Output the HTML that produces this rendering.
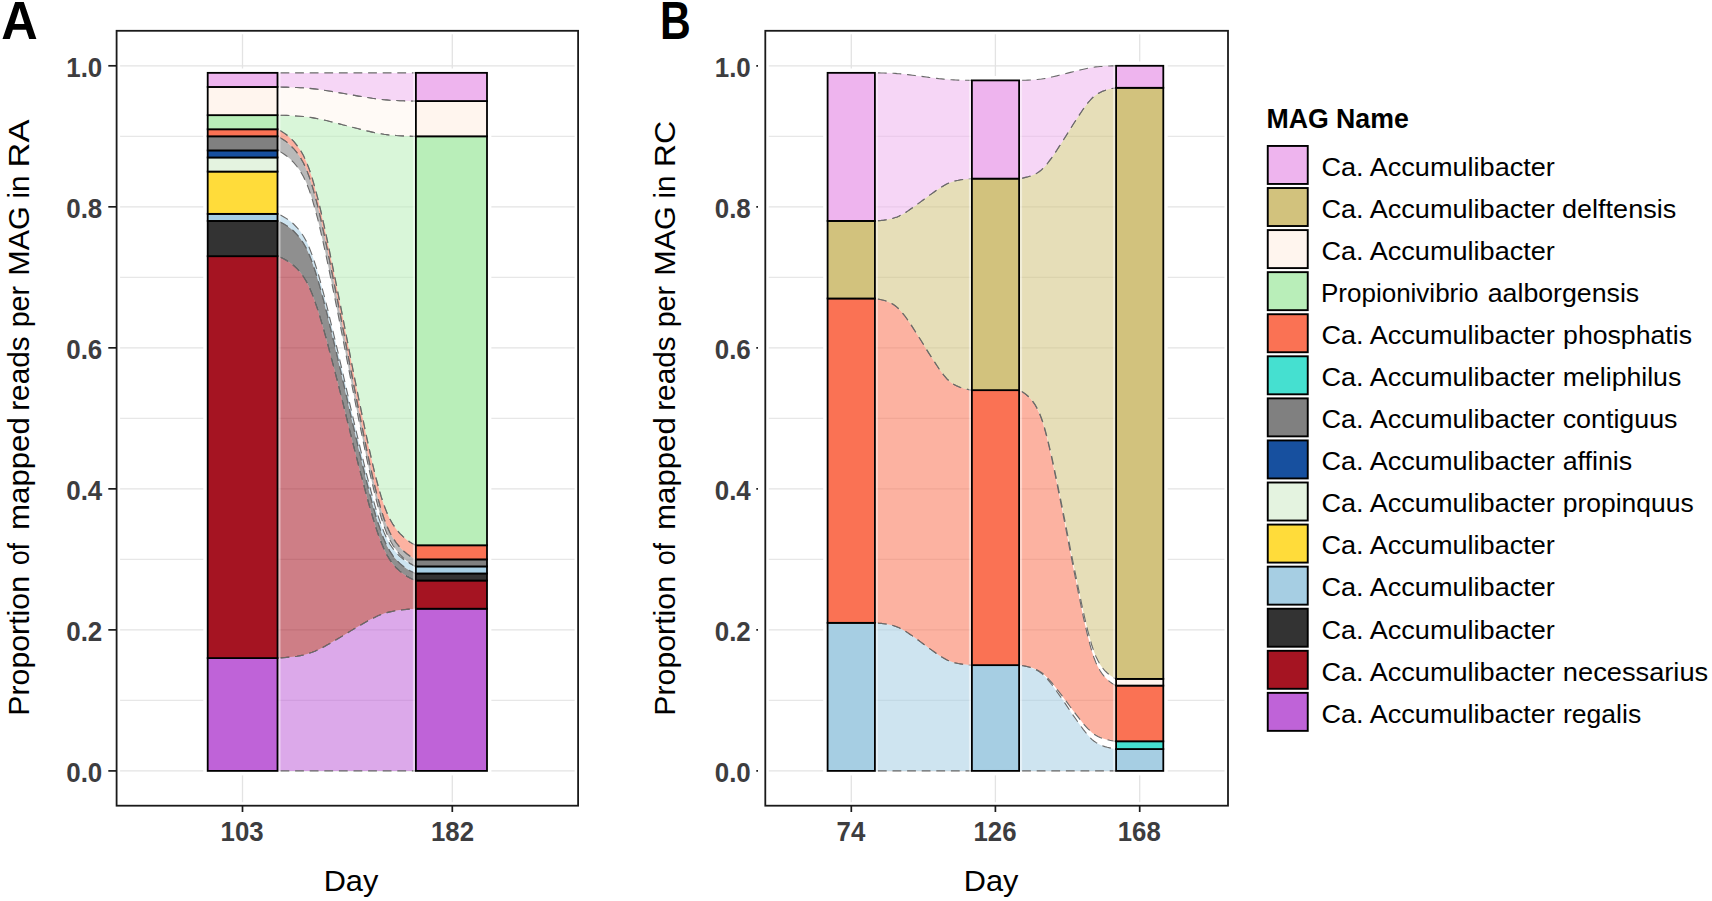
<!DOCTYPE html>
<html><head><meta charset="utf-8"><title>Figure</title>
<style>html,body{margin:0;padding:0;background:#fff}body{width:1712px;height:901px;overflow:hidden}</style></head>
<body>
<svg width="1712" height="901" viewBox="0 0 1712 901" style="display:block">
<rect width="1712" height="901" fill="#fff"/>
<rect x="116.6" y="30.8" width="461.5" height="774.9000000000001" fill="#fff"/>
<line x1="116.6" x2="578.1" y1="770.90" y2="770.90" stroke="#E3E3E3" stroke-width="1.3"/>
<line x1="116.6" x2="578.1" y1="700.39" y2="700.39" stroke="#E7E7E7" stroke-width="1.2"/>
<line x1="116.6" x2="578.1" y1="629.88" y2="629.88" stroke="#E3E3E3" stroke-width="1.3"/>
<line x1="116.6" x2="578.1" y1="559.37" y2="559.37" stroke="#E7E7E7" stroke-width="1.2"/>
<line x1="116.6" x2="578.1" y1="488.86" y2="488.86" stroke="#E3E3E3" stroke-width="1.3"/>
<line x1="116.6" x2="578.1" y1="418.35" y2="418.35" stroke="#E7E7E7" stroke-width="1.2"/>
<line x1="116.6" x2="578.1" y1="347.84" y2="347.84" stroke="#E3E3E3" stroke-width="1.3"/>
<line x1="116.6" x2="578.1" y1="277.33" y2="277.33" stroke="#E7E7E7" stroke-width="1.2"/>
<line x1="116.6" x2="578.1" y1="206.82" y2="206.82" stroke="#E3E3E3" stroke-width="1.3"/>
<line x1="116.6" x2="578.1" y1="136.31" y2="136.31" stroke="#E7E7E7" stroke-width="1.2"/>
<line x1="116.6" x2="578.1" y1="65.80" y2="65.80" stroke="#E3E3E3" stroke-width="1.3"/>
<line x1="242.5" x2="242.5" y1="30.8" y2="805.7" stroke="#E3E3E3" stroke-width="1.3"/>
<line x1="452.3" x2="452.3" y1="30.8" y2="805.7" stroke="#E3E3E3" stroke-width="1.3"/>
<rect x="116.6" y="30.8" width="461.5" height="774.9000000000001" fill="none" stroke="#fff" stroke-width="7"/>
<line x1="204.30" x2="280.90" y1="70.65" y2="70.65" stroke="#fff" stroke-width="4.4"/>
<line x1="242.5" x2="242.5" y1="771.40" y2="775.40" stroke="#fff" stroke-width="5"/>
<line x1="205.50" x2="205.50" y1="68.85" y2="774.90" stroke="#fff" stroke-width="4.4"/>
<line x1="412.50" x2="490.40" y1="70.65" y2="70.65" stroke="#fff" stroke-width="4.4"/>
<line x1="452.3" x2="452.3" y1="771.40" y2="775.40" stroke="#fff" stroke-width="5"/>
<line x1="489.20" x2="489.20" y1="68.85" y2="774.90" stroke="#fff" stroke-width="4.4"/>
<path d="M277.5,658.1 L277.6,658.1 L278.0,658.1 L279.1,658.0 L280.9,657.9 L283.5,657.7 L286.6,657.4 L290.0,657.1 L293.6,656.7 L297.0,656.2 L300.4,655.6 L303.5,655.0 L306.5,654.2 L309.3,653.3 L312.1,652.3 L314.9,651.2 L317.9,649.9 L320.9,648.4 L324.1,646.7 L327.5,644.8 L331.0,642.8 L334.8,640.6 L338.7,638.3 L342.7,635.9 L346.7,633.4 L350.7,630.9 L354.7,628.5 L358.6,626.2 L362.4,624.0 L365.9,622.0 L369.3,620.1 L372.5,618.5 L375.5,617.0 L378.5,615.6 L381.3,614.5 L384.1,613.5 L386.9,612.6 L389.9,611.9 L393.0,611.2 L396.4,610.6 L399.8,610.1 L403.4,609.7 L406.8,609.4 L409.9,609.1 L412.5,608.9 L414.3,608.8 L415.4,608.8 L415.8,608.7 L415.9,608.7 L415.9,770.9 L415.8,770.9 L415.4,770.9 L414.3,770.9 L412.5,770.9 L409.9,770.9 L406.8,770.9 L403.4,770.9 L399.8,770.9 L396.4,770.9 L393.0,770.9 L389.9,770.9 L386.9,770.9 L384.1,770.9 L381.3,770.9 L378.5,770.9 L375.5,770.9 L372.5,770.9 L369.3,770.9 L365.9,770.9 L362.4,770.9 L358.6,770.9 L354.7,770.9 L350.7,770.9 L346.7,770.9 L342.7,770.9 L338.7,770.9 L334.8,770.9 L331.0,770.9 L327.5,770.9 L324.1,770.9 L320.9,770.9 L317.9,770.9 L314.9,770.9 L312.1,770.9 L309.3,770.9 L306.5,770.9 L303.5,770.9 L300.4,770.9 L297.0,770.9 L293.6,770.9 L290.0,770.9 L286.6,770.9 L283.5,770.9 L280.9,770.9 L279.1,770.9 L278.0,770.9 L277.6,770.9 L277.5,770.9Z" fill="#BF63D8" fill-opacity="0.55"/>
<path d="M277.5,658.1 L277.6,658.1 L278.0,658.1 L279.1,658.0 L280.9,657.9 L283.5,657.7 L286.6,657.4 L290.0,657.1 L293.6,656.7 L297.0,656.2 L300.4,655.6 L303.5,655.0 L306.5,654.2 L309.3,653.3 L312.1,652.3 L314.9,651.2 L317.9,649.9 L320.9,648.4 L324.1,646.7 L327.5,644.8 L331.0,642.8 L334.8,640.6 L338.7,638.3 L342.7,635.9 L346.7,633.4 L350.7,630.9 L354.7,628.5 L358.6,626.2 L362.4,624.0 L365.9,622.0 L369.3,620.1 L372.5,618.5 L375.5,617.0 L378.5,615.6 L381.3,614.5 L384.1,613.5 L386.9,612.6 L389.9,611.9 L393.0,611.2 L396.4,610.6 L399.8,610.1 L403.4,609.7 L406.8,609.4 L409.9,609.1 L412.5,608.9 L414.3,608.8 L415.4,608.8 L415.8,608.7 L415.9,608.7" fill="none" stroke="#6a6a6a" stroke-width="1.1" stroke-dasharray="8.8,5.8" stroke-dashoffset="-3"/>
<path d="M277.5,770.9 L277.6,770.9 L278.0,770.9 L279.1,770.9 L280.9,770.9 L283.5,770.9 L286.6,770.9 L290.0,770.9 L293.6,770.9 L297.0,770.9 L300.4,770.9 L303.5,770.9 L306.5,770.9 L309.3,770.9 L312.1,770.9 L314.9,770.9 L317.9,770.9 L320.9,770.9 L324.1,770.9 L327.5,770.9 L331.0,770.9 L334.8,770.9 L338.7,770.9 L342.7,770.9 L346.7,770.9 L350.7,770.9 L354.7,770.9 L358.6,770.9 L362.4,770.9 L365.9,770.9 L369.3,770.9 L372.5,770.9 L375.5,770.9 L378.5,770.9 L381.3,770.9 L384.1,770.9 L386.9,770.9 L389.9,770.9 L393.0,770.9 L396.4,770.9 L399.8,770.9 L403.4,770.9 L406.8,770.9 L409.9,770.9 L412.5,770.9 L414.3,770.9 L415.4,770.9 L415.8,770.9 L415.9,770.9" fill="none" stroke="#6a6a6a" stroke-width="1.1" stroke-dasharray="8.8,5.8" stroke-dashoffset="-3"/>
<path d="M277.5,256.2 L277.6,256.2 L278.0,256.3 L279.1,256.7 L280.9,257.5 L283.5,258.8 L286.6,260.5 L290.0,262.7 L293.6,265.5 L297.0,268.7 L300.4,272.5 L303.5,276.8 L306.5,281.7 L309.3,287.4 L312.1,293.9 L314.9,301.5 L317.9,310.2 L320.9,320.1 L324.1,331.1 L327.5,343.4 L331.0,356.8 L334.8,371.1 L338.7,386.4 L342.7,402.2 L346.7,418.3 L350.7,434.5 L354.7,450.3 L358.6,465.6 L362.4,479.9 L365.9,493.3 L369.3,505.6 L372.5,516.6 L375.5,526.5 L378.5,535.2 L381.3,542.8 L384.1,549.3 L386.9,555.0 L389.9,559.9 L393.0,564.2 L396.4,568.0 L399.8,571.2 L403.4,574.0 L406.8,576.2 L409.9,577.9 L412.5,579.2 L414.3,580.0 L415.4,580.4 L415.8,580.5 L415.9,580.5 L415.9,608.7 L415.8,608.7 L415.4,608.8 L414.3,608.8 L412.5,608.9 L409.9,609.1 L406.8,609.4 L403.4,609.7 L399.8,610.1 L396.4,610.6 L393.0,611.2 L389.9,611.9 L386.9,612.6 L384.1,613.5 L381.3,614.5 L378.5,615.6 L375.5,617.0 L372.5,618.5 L369.3,620.1 L365.9,622.0 L362.4,624.0 L358.6,626.2 L354.7,628.5 L350.7,630.9 L346.7,633.4 L342.7,635.9 L338.7,638.3 L334.8,640.6 L331.0,642.8 L327.5,644.8 L324.1,646.7 L320.9,648.4 L317.9,649.9 L314.9,651.2 L312.1,652.3 L309.3,653.3 L306.5,654.2 L303.5,655.0 L300.4,655.6 L297.0,656.2 L293.6,656.7 L290.0,657.1 L286.6,657.4 L283.5,657.7 L280.9,657.9 L279.1,658.0 L278.0,658.1 L277.6,658.1 L277.5,658.1Z" fill="#A51422" fill-opacity="0.55"/>
<path d="M277.5,256.2 L277.6,256.2 L278.0,256.3 L279.1,256.7 L280.9,257.5 L283.5,258.8 L286.6,260.5 L290.0,262.7 L293.6,265.5 L297.0,268.7 L300.4,272.5 L303.5,276.8 L306.5,281.7 L309.3,287.4 L312.1,293.9 L314.9,301.5 L317.9,310.2 L320.9,320.1 L324.1,331.1 L327.5,343.4 L331.0,356.8 L334.8,371.1 L338.7,386.4 L342.7,402.2 L346.7,418.3 L350.7,434.5 L354.7,450.3 L358.6,465.6 L362.4,479.9 L365.9,493.3 L369.3,505.6 L372.5,516.6 L375.5,526.5 L378.5,535.2 L381.3,542.8 L384.1,549.3 L386.9,555.0 L389.9,559.9 L393.0,564.2 L396.4,568.0 L399.8,571.2 L403.4,574.0 L406.8,576.2 L409.9,577.9 L412.5,579.2 L414.3,580.0 L415.4,580.4 L415.8,580.5 L415.9,580.5" fill="none" stroke="#6a6a6a" stroke-width="1.1" stroke-dasharray="8.8,5.8" stroke-dashoffset="-3"/>
<path d="M277.5,658.1 L277.6,658.1 L278.0,658.1 L279.1,658.0 L280.9,657.9 L283.5,657.7 L286.6,657.4 L290.0,657.1 L293.6,656.7 L297.0,656.2 L300.4,655.6 L303.5,655.0 L306.5,654.2 L309.3,653.3 L312.1,652.3 L314.9,651.2 L317.9,649.9 L320.9,648.4 L324.1,646.7 L327.5,644.8 L331.0,642.8 L334.8,640.6 L338.7,638.3 L342.7,635.9 L346.7,633.4 L350.7,630.9 L354.7,628.5 L358.6,626.2 L362.4,624.0 L365.9,622.0 L369.3,620.1 L372.5,618.5 L375.5,617.0 L378.5,615.6 L381.3,614.5 L384.1,613.5 L386.9,612.6 L389.9,611.9 L393.0,611.2 L396.4,610.6 L399.8,610.1 L403.4,609.7 L406.8,609.4 L409.9,609.1 L412.5,608.9 L414.3,608.8 L415.4,608.8 L415.8,608.7 L415.9,608.7" fill="none" stroke="#6a6a6a" stroke-width="1.1" stroke-dasharray="8.8,5.8" stroke-dashoffset="-3"/>
<path d="M277.5,220.9 L277.6,220.9 L278.0,221.1 L279.1,221.5 L280.9,222.4 L283.5,223.7 L286.6,225.6 L290.0,228.1 L293.6,231.0 L297.0,234.6 L300.4,238.6 L303.5,243.3 L306.5,248.6 L309.3,254.8 L312.1,261.9 L314.9,270.2 L317.9,279.7 L320.9,290.4 L324.1,302.4 L327.5,315.7 L331.0,330.2 L334.8,345.9 L338.7,362.4 L342.7,379.7 L346.7,397.2 L350.7,414.7 L354.7,432.0 L358.6,448.5 L362.4,464.2 L365.9,478.7 L369.3,492.0 L372.5,504.0 L375.5,514.7 L378.5,524.2 L381.3,532.4 L384.1,539.6 L386.9,545.8 L389.9,551.1 L393.0,555.8 L396.4,559.8 L399.8,563.3 L403.4,566.3 L406.8,568.8 L409.9,570.7 L412.5,572.0 L414.3,572.9 L415.4,573.3 L415.8,573.5 L415.9,573.5 L415.9,580.5 L415.8,580.5 L415.4,580.4 L414.3,580.0 L412.5,579.2 L409.9,577.9 L406.8,576.2 L403.4,574.0 L399.8,571.2 L396.4,568.0 L393.0,564.2 L389.9,559.9 L386.9,555.0 L384.1,549.3 L381.3,542.8 L378.5,535.2 L375.5,526.5 L372.5,516.6 L369.3,505.6 L365.9,493.3 L362.4,479.9 L358.6,465.6 L354.7,450.3 L350.7,434.5 L346.7,418.3 L342.7,402.2 L338.7,386.4 L334.8,371.1 L331.0,356.8 L327.5,343.4 L324.1,331.1 L320.9,320.1 L317.9,310.2 L314.9,301.5 L312.1,293.9 L309.3,287.4 L306.5,281.7 L303.5,276.8 L300.4,272.5 L297.0,268.7 L293.6,265.5 L290.0,262.7 L286.6,260.5 L283.5,258.8 L280.9,257.5 L279.1,256.7 L278.0,256.3 L277.6,256.2 L277.5,256.2Z" fill="#333333" fill-opacity="0.55"/>
<path d="M277.5,220.9 L277.6,220.9 L278.0,221.1 L279.1,221.5 L280.9,222.4 L283.5,223.7 L286.6,225.6 L290.0,228.1 L293.6,231.0 L297.0,234.6 L300.4,238.6 L303.5,243.3 L306.5,248.6 L309.3,254.8 L312.1,261.9 L314.9,270.2 L317.9,279.7 L320.9,290.4 L324.1,302.4 L327.5,315.7 L331.0,330.2 L334.8,345.9 L338.7,362.4 L342.7,379.7 L346.7,397.2 L350.7,414.7 L354.7,432.0 L358.6,448.5 L362.4,464.2 L365.9,478.7 L369.3,492.0 L372.5,504.0 L375.5,514.7 L378.5,524.2 L381.3,532.4 L384.1,539.6 L386.9,545.8 L389.9,551.1 L393.0,555.8 L396.4,559.8 L399.8,563.3 L403.4,566.3 L406.8,568.8 L409.9,570.7 L412.5,572.0 L414.3,572.9 L415.4,573.3 L415.8,573.5 L415.9,573.5" fill="none" stroke="#6a6a6a" stroke-width="1.1" stroke-dasharray="8.8,5.8" stroke-dashoffset="-3"/>
<path d="M277.5,256.2 L277.6,256.2 L278.0,256.3 L279.1,256.7 L280.9,257.5 L283.5,258.8 L286.6,260.5 L290.0,262.7 L293.6,265.5 L297.0,268.7 L300.4,272.5 L303.5,276.8 L306.5,281.7 L309.3,287.4 L312.1,293.9 L314.9,301.5 L317.9,310.2 L320.9,320.1 L324.1,331.1 L327.5,343.4 L331.0,356.8 L334.8,371.1 L338.7,386.4 L342.7,402.2 L346.7,418.3 L350.7,434.5 L354.7,450.3 L358.6,465.6 L362.4,479.9 L365.9,493.3 L369.3,505.6 L372.5,516.6 L375.5,526.5 L378.5,535.2 L381.3,542.8 L384.1,549.3 L386.9,555.0 L389.9,559.9 L393.0,564.2 L396.4,568.0 L399.8,571.2 L403.4,574.0 L406.8,576.2 L409.9,577.9 L412.5,579.2 L414.3,580.0 L415.4,580.4 L415.8,580.5 L415.9,580.5" fill="none" stroke="#6a6a6a" stroke-width="1.1" stroke-dasharray="8.8,5.8" stroke-dashoffset="-3"/>
<path d="M277.5,213.9 L277.6,213.9 L278.0,214.1 L279.1,214.5 L280.9,215.3 L283.5,216.7 L286.6,218.6 L290.0,221.0 L293.6,224.0 L297.0,227.5 L300.4,231.6 L303.5,236.2 L306.5,241.6 L309.3,247.8 L312.1,254.9 L314.9,263.2 L317.9,272.6 L320.9,283.4 L324.1,295.4 L327.5,308.7 L331.0,323.2 L334.8,338.8 L338.7,355.4 L342.7,372.6 L346.7,390.1 L350.7,407.7 L354.7,424.9 L358.6,441.5 L362.4,457.1 L365.9,471.6 L369.3,484.9 L372.5,496.9 L375.5,507.7 L378.5,517.1 L381.3,525.4 L384.1,532.5 L386.9,538.7 L389.9,544.1 L393.0,548.7 L396.4,552.8 L399.8,556.3 L403.4,559.3 L406.8,561.7 L409.9,563.6 L412.5,565.0 L414.3,565.8 L415.4,566.2 L415.8,566.4 L415.9,566.4 L415.9,573.5 L415.8,573.5 L415.4,573.3 L414.3,572.9 L412.5,572.0 L409.9,570.7 L406.8,568.8 L403.4,566.3 L399.8,563.3 L396.4,559.8 L393.0,555.8 L389.9,551.1 L386.9,545.8 L384.1,539.6 L381.3,532.4 L378.5,524.2 L375.5,514.7 L372.5,504.0 L369.3,492.0 L365.9,478.7 L362.4,464.2 L358.6,448.5 L354.7,432.0 L350.7,414.7 L346.7,397.2 L342.7,379.7 L338.7,362.4 L334.8,345.9 L331.0,330.2 L327.5,315.7 L324.1,302.4 L320.9,290.4 L317.9,279.7 L314.9,270.2 L312.1,261.9 L309.3,254.8 L306.5,248.6 L303.5,243.3 L300.4,238.6 L297.0,234.6 L293.6,231.0 L290.0,228.1 L286.6,225.6 L283.5,223.7 L280.9,222.4 L279.1,221.5 L278.0,221.1 L277.6,220.9 L277.5,220.9Z" fill="#A6CEE3" fill-opacity="0.55"/>
<path d="M277.5,213.9 L277.6,213.9 L278.0,214.1 L279.1,214.5 L280.9,215.3 L283.5,216.7 L286.6,218.6 L290.0,221.0 L293.6,224.0 L297.0,227.5 L300.4,231.6 L303.5,236.2 L306.5,241.6 L309.3,247.8 L312.1,254.9 L314.9,263.2 L317.9,272.6 L320.9,283.4 L324.1,295.4 L327.5,308.7 L331.0,323.2 L334.8,338.8 L338.7,355.4 L342.7,372.6 L346.7,390.1 L350.7,407.7 L354.7,424.9 L358.6,441.5 L362.4,457.1 L365.9,471.6 L369.3,484.9 L372.5,496.9 L375.5,507.7 L378.5,517.1 L381.3,525.4 L384.1,532.5 L386.9,538.7 L389.9,544.1 L393.0,548.7 L396.4,552.8 L399.8,556.3 L403.4,559.3 L406.8,561.7 L409.9,563.6 L412.5,565.0 L414.3,565.8 L415.4,566.2 L415.8,566.4 L415.9,566.4" fill="none" stroke="#6a6a6a" stroke-width="1.1" stroke-dasharray="8.8,5.8" stroke-dashoffset="-3"/>
<path d="M277.5,220.9 L277.6,220.9 L278.0,221.1 L279.1,221.5 L280.9,222.4 L283.5,223.7 L286.6,225.6 L290.0,228.1 L293.6,231.0 L297.0,234.6 L300.4,238.6 L303.5,243.3 L306.5,248.6 L309.3,254.8 L312.1,261.9 L314.9,270.2 L317.9,279.7 L320.9,290.4 L324.1,302.4 L327.5,315.7 L331.0,330.2 L334.8,345.9 L338.7,362.4 L342.7,379.7 L346.7,397.2 L350.7,414.7 L354.7,432.0 L358.6,448.5 L362.4,464.2 L365.9,478.7 L369.3,492.0 L372.5,504.0 L375.5,514.7 L378.5,524.2 L381.3,532.4 L384.1,539.6 L386.9,545.8 L389.9,551.1 L393.0,555.8 L396.4,559.8 L399.8,563.3 L403.4,566.3 L406.8,568.8 L409.9,570.7 L412.5,572.0 L414.3,572.9 L415.4,573.3 L415.8,573.5 L415.9,573.5" fill="none" stroke="#6a6a6a" stroke-width="1.1" stroke-dasharray="8.8,5.8" stroke-dashoffset="-3"/>
<path d="M277.5,136.3 L277.6,136.3 L278.0,136.5 L279.1,137.0 L280.9,138.1 L283.5,139.7 L286.6,141.9 L290.0,144.9 L293.6,148.5 L297.0,152.7 L300.4,157.6 L303.5,163.1 L306.5,169.6 L309.3,177.0 L312.1,185.5 L314.9,195.4 L317.9,206.8 L320.9,219.7 L324.1,234.1 L327.5,250.1 L331.0,267.5 L334.8,286.3 L338.7,306.1 L342.7,326.8 L346.7,347.8 L350.7,368.9 L354.7,389.5 L358.6,409.4 L362.4,428.2 L365.9,445.6 L369.3,461.6 L372.5,476.0 L375.5,488.9 L378.5,500.2 L381.3,510.1 L384.1,518.7 L386.9,526.1 L389.9,532.5 L393.0,538.1 L396.4,543.0 L399.8,547.2 L403.4,550.8 L406.8,553.7 L409.9,556.0 L412.5,557.6 L414.3,558.6 L415.4,559.2 L415.8,559.3 L415.9,559.4 L415.9,566.4 L415.8,566.4 L415.4,566.2 L414.3,565.7 L412.5,564.7 L409.9,563.1 L406.8,560.9 L403.4,558.0 L399.8,554.5 L396.4,550.3 L393.0,545.5 L389.9,540.0 L386.9,533.7 L384.1,526.4 L381.3,518.0 L378.5,508.3 L375.5,497.1 L372.5,484.4 L369.3,470.3 L365.9,454.6 L362.4,437.4 L358.6,419.0 L354.7,399.4 L350.7,379.1 L346.7,358.4 L342.7,337.7 L338.7,317.4 L334.8,297.9 L331.0,279.4 L327.5,262.3 L324.1,246.6 L320.9,232.4 L317.9,219.7 L314.9,208.6 L312.1,198.8 L309.3,190.4 L306.5,183.1 L303.5,176.8 L300.4,171.3 L297.0,166.5 L293.6,162.4 L290.0,158.8 L286.6,156.0 L283.5,153.7 L280.9,152.1 L279.1,151.1 L278.0,150.6 L277.6,150.4 L277.5,150.4Z" fill="#808080" fill-opacity="0.55"/>
<path d="M277.5,136.3 L277.6,136.3 L278.0,136.5 L279.1,137.0 L280.9,138.1 L283.5,139.7 L286.6,141.9 L290.0,144.9 L293.6,148.5 L297.0,152.7 L300.4,157.6 L303.5,163.1 L306.5,169.6 L309.3,177.0 L312.1,185.5 L314.9,195.4 L317.9,206.8 L320.9,219.7 L324.1,234.1 L327.5,250.1 L331.0,267.5 L334.8,286.3 L338.7,306.1 L342.7,326.8 L346.7,347.8 L350.7,368.9 L354.7,389.5 L358.6,409.4 L362.4,428.2 L365.9,445.6 L369.3,461.6 L372.5,476.0 L375.5,488.9 L378.5,500.2 L381.3,510.1 L384.1,518.7 L386.9,526.1 L389.9,532.5 L393.0,538.1 L396.4,543.0 L399.8,547.2 L403.4,550.8 L406.8,553.7 L409.9,556.0 L412.5,557.6 L414.3,558.6 L415.4,559.2 L415.8,559.3 L415.9,559.4" fill="none" stroke="#6a6a6a" stroke-width="1.1" stroke-dasharray="8.8,5.8" stroke-dashoffset="-3"/>
<path d="M277.5,150.4 L277.6,150.4 L278.0,150.6 L279.1,151.1 L280.9,152.1 L283.5,153.7 L286.6,156.0 L290.0,158.8 L293.6,162.4 L297.0,166.5 L300.4,171.3 L303.5,176.8 L306.5,183.1 L309.3,190.4 L312.1,198.8 L314.9,208.6 L317.9,219.7 L320.9,232.4 L324.1,246.6 L327.5,262.3 L331.0,279.4 L334.8,297.9 L338.7,317.4 L342.7,337.7 L346.7,358.4 L350.7,379.1 L354.7,399.4 L358.6,419.0 L362.4,437.4 L365.9,454.6 L369.3,470.3 L372.5,484.4 L375.5,497.1 L378.5,508.3 L381.3,518.0 L384.1,526.4 L386.9,533.7 L389.9,540.0 L393.0,545.5 L396.4,550.3 L399.8,554.5 L403.4,558.0 L406.8,560.9 L409.9,563.1 L412.5,564.7 L414.3,565.7 L415.4,566.2 L415.8,566.4 L415.9,566.4" fill="none" stroke="#6a6a6a" stroke-width="1.1" stroke-dasharray="8.8,5.8" stroke-dashoffset="-3"/>
<path d="M277.5,129.3 L277.6,129.3 L278.0,129.5 L279.1,130.0 L280.9,131.0 L283.5,132.6 L286.6,134.8 L290.0,137.7 L293.6,141.2 L297.0,145.4 L300.4,150.1 L303.5,155.6 L306.5,162.0 L309.3,169.2 L312.1,177.7 L314.9,187.4 L317.9,198.6 L320.9,211.2 L324.1,225.4 L327.5,241.1 L331.0,258.3 L334.8,276.7 L338.7,296.3 L342.7,316.6 L346.7,337.3 L350.7,358.0 L354.7,378.3 L358.6,397.8 L362.4,416.3 L365.9,433.4 L369.3,449.1 L372.5,463.3 L375.5,475.9 L378.5,487.1 L381.3,496.9 L384.1,505.3 L386.9,512.6 L389.9,518.9 L393.0,524.4 L396.4,529.2 L399.8,533.3 L403.4,536.8 L406.8,539.7 L409.9,542.0 L412.5,543.6 L414.3,544.5 L415.4,545.1 L415.8,545.2 L415.9,545.3 L415.9,559.4 L415.8,559.3 L415.4,559.2 L414.3,558.6 L412.5,557.6 L409.9,556.0 L406.8,553.7 L403.4,550.8 L399.8,547.2 L396.4,543.0 L393.0,538.1 L389.9,532.5 L386.9,526.1 L384.1,518.7 L381.3,510.1 L378.5,500.2 L375.5,488.9 L372.5,476.0 L369.3,461.6 L365.9,445.6 L362.4,428.2 L358.6,409.4 L354.7,389.5 L350.7,368.9 L346.7,347.8 L342.7,326.8 L338.7,306.1 L334.8,286.3 L331.0,267.5 L327.5,250.1 L324.1,234.1 L320.9,219.7 L317.9,206.8 L314.9,195.4 L312.1,185.5 L309.3,177.0 L306.5,169.6 L303.5,163.1 L300.4,157.6 L297.0,152.7 L293.6,148.5 L290.0,144.9 L286.6,141.9 L283.5,139.7 L280.9,138.1 L279.1,137.0 L278.0,136.5 L277.6,136.3 L277.5,136.3Z" fill="#FA7254" fill-opacity="0.55"/>
<path d="M277.5,129.3 L277.6,129.3 L278.0,129.5 L279.1,130.0 L280.9,131.0 L283.5,132.6 L286.6,134.8 L290.0,137.7 L293.6,141.2 L297.0,145.4 L300.4,150.1 L303.5,155.6 L306.5,162.0 L309.3,169.2 L312.1,177.7 L314.9,187.4 L317.9,198.6 L320.9,211.2 L324.1,225.4 L327.5,241.1 L331.0,258.3 L334.8,276.7 L338.7,296.3 L342.7,316.6 L346.7,337.3 L350.7,358.0 L354.7,378.3 L358.6,397.8 L362.4,416.3 L365.9,433.4 L369.3,449.1 L372.5,463.3 L375.5,475.9 L378.5,487.1 L381.3,496.9 L384.1,505.3 L386.9,512.6 L389.9,518.9 L393.0,524.4 L396.4,529.2 L399.8,533.3 L403.4,536.8 L406.8,539.7 L409.9,542.0 L412.5,543.6 L414.3,544.5 L415.4,545.1 L415.8,545.2 L415.9,545.3" fill="none" stroke="#6a6a6a" stroke-width="1.1" stroke-dasharray="8.8,5.8" stroke-dashoffset="-3"/>
<path d="M277.5,136.3 L277.6,136.3 L278.0,136.5 L279.1,137.0 L280.9,138.1 L283.5,139.7 L286.6,141.9 L290.0,144.9 L293.6,148.5 L297.0,152.7 L300.4,157.6 L303.5,163.1 L306.5,169.6 L309.3,177.0 L312.1,185.5 L314.9,195.4 L317.9,206.8 L320.9,219.7 L324.1,234.1 L327.5,250.1 L331.0,267.5 L334.8,286.3 L338.7,306.1 L342.7,326.8 L346.7,347.8 L350.7,368.9 L354.7,389.5 L358.6,409.4 L362.4,428.2 L365.9,445.6 L369.3,461.6 L372.5,476.0 L375.5,488.9 L378.5,500.2 L381.3,510.1 L384.1,518.7 L386.9,526.1 L389.9,532.5 L393.0,538.1 L396.4,543.0 L399.8,547.2 L403.4,550.8 L406.8,553.7 L409.9,556.0 L412.5,557.6 L414.3,558.6 L415.4,559.2 L415.8,559.3 L415.9,559.4" fill="none" stroke="#6a6a6a" stroke-width="1.1" stroke-dasharray="8.8,5.8" stroke-dashoffset="-3"/>
<path d="M277.5,115.2 L277.6,115.2 L278.0,115.2 L279.1,115.2 L280.9,115.2 L283.5,115.3 L286.6,115.4 L290.0,115.6 L293.6,115.8 L297.0,116.0 L300.4,116.2 L303.5,116.5 L306.5,116.8 L309.3,117.2 L312.1,117.6 L314.9,118.1 L317.9,118.7 L320.9,119.3 L324.1,120.0 L327.5,120.8 L331.0,121.7 L334.8,122.7 L338.7,123.6 L342.7,124.7 L346.7,125.7 L350.7,126.8 L354.7,127.8 L358.6,128.8 L362.4,129.8 L365.9,130.6 L369.3,131.4 L372.5,132.1 L375.5,132.8 L378.5,133.4 L381.3,133.8 L384.1,134.3 L386.9,134.6 L389.9,135.0 L393.0,135.2 L396.4,135.5 L399.8,135.7 L403.4,135.9 L406.8,136.0 L409.9,136.1 L412.5,136.2 L414.3,136.3 L415.4,136.3 L415.8,136.3 L415.9,136.3 L415.9,545.3 L415.8,545.2 L415.4,545.1 L414.3,544.5 L412.5,543.6 L409.9,542.0 L406.8,539.7 L403.4,536.8 L399.8,533.3 L396.4,529.2 L393.0,524.4 L389.9,518.9 L386.9,512.6 L384.1,505.3 L381.3,496.9 L378.5,487.1 L375.5,475.9 L372.5,463.3 L369.3,449.1 L365.9,433.4 L362.4,416.3 L358.6,397.8 L354.7,378.3 L350.7,358.0 L346.7,337.3 L342.7,316.6 L338.7,296.3 L334.8,276.7 L331.0,258.3 L327.5,241.1 L324.1,225.4 L320.9,211.2 L317.9,198.6 L314.9,187.4 L312.1,177.7 L309.3,169.2 L306.5,162.0 L303.5,155.6 L300.4,150.1 L297.0,145.4 L293.6,141.2 L290.0,137.7 L286.6,134.8 L283.5,132.6 L280.9,131.0 L279.1,130.0 L278.0,129.5 L277.6,129.3 L277.5,129.3Z" fill="#B9EEB9" fill-opacity="0.55"/>
<path d="M277.5,115.2 L277.6,115.2 L278.0,115.2 L279.1,115.2 L280.9,115.2 L283.5,115.3 L286.6,115.4 L290.0,115.6 L293.6,115.8 L297.0,116.0 L300.4,116.2 L303.5,116.5 L306.5,116.8 L309.3,117.2 L312.1,117.6 L314.9,118.1 L317.9,118.7 L320.9,119.3 L324.1,120.0 L327.5,120.8 L331.0,121.7 L334.8,122.7 L338.7,123.6 L342.7,124.7 L346.7,125.7 L350.7,126.8 L354.7,127.8 L358.6,128.8 L362.4,129.8 L365.9,130.6 L369.3,131.4 L372.5,132.1 L375.5,132.8 L378.5,133.4 L381.3,133.8 L384.1,134.3 L386.9,134.6 L389.9,135.0 L393.0,135.2 L396.4,135.5 L399.8,135.7 L403.4,135.9 L406.8,136.0 L409.9,136.1 L412.5,136.2 L414.3,136.3 L415.4,136.3 L415.8,136.3 L415.9,136.3" fill="none" stroke="#6a6a6a" stroke-width="1.1" stroke-dasharray="8.8,5.8" stroke-dashoffset="-3"/>
<path d="M277.5,129.3 L277.6,129.3 L278.0,129.5 L279.1,130.0 L280.9,131.0 L283.5,132.6 L286.6,134.8 L290.0,137.7 L293.6,141.2 L297.0,145.4 L300.4,150.1 L303.5,155.6 L306.5,162.0 L309.3,169.2 L312.1,177.7 L314.9,187.4 L317.9,198.6 L320.9,211.2 L324.1,225.4 L327.5,241.1 L331.0,258.3 L334.8,276.7 L338.7,296.3 L342.7,316.6 L346.7,337.3 L350.7,358.0 L354.7,378.3 L358.6,397.8 L362.4,416.3 L365.9,433.4 L369.3,449.1 L372.5,463.3 L375.5,475.9 L378.5,487.1 L381.3,496.9 L384.1,505.3 L386.9,512.6 L389.9,518.9 L393.0,524.4 L396.4,529.2 L399.8,533.3 L403.4,536.8 L406.8,539.7 L409.9,542.0 L412.5,543.6 L414.3,544.5 L415.4,545.1 L415.8,545.2 L415.9,545.3" fill="none" stroke="#6a6a6a" stroke-width="1.1" stroke-dasharray="8.8,5.8" stroke-dashoffset="-3"/>
<path d="M277.5,87.0 L277.6,87.0 L278.0,87.0 L279.1,87.0 L280.9,87.0 L283.5,87.1 L286.6,87.1 L290.0,87.2 L293.6,87.4 L297.0,87.5 L300.4,87.7 L303.5,87.8 L306.5,88.1 L309.3,88.3 L312.1,88.6 L314.9,88.9 L317.9,89.3 L320.9,89.7 L324.1,90.2 L327.5,90.7 L331.0,91.3 L334.8,92.0 L338.7,92.6 L342.7,93.3 L346.7,94.0 L350.7,94.7 L354.7,95.4 L358.6,96.1 L362.4,96.7 L365.9,97.3 L369.3,97.8 L372.5,98.3 L375.5,98.7 L378.5,99.1 L381.3,99.4 L384.1,99.7 L386.9,99.9 L389.9,100.2 L393.0,100.3 L396.4,100.5 L399.8,100.7 L403.4,100.8 L406.8,100.9 L409.9,100.9 L412.5,101.0 L414.3,101.0 L415.4,101.0 L415.8,101.1 L415.9,101.1 L415.9,136.3 L415.8,136.3 L415.4,136.3 L414.3,136.3 L412.5,136.2 L409.9,136.1 L406.8,136.0 L403.4,135.9 L399.8,135.7 L396.4,135.5 L393.0,135.2 L389.9,135.0 L386.9,134.6 L384.1,134.3 L381.3,133.8 L378.5,133.4 L375.5,132.8 L372.5,132.1 L369.3,131.4 L365.9,130.6 L362.4,129.8 L358.6,128.8 L354.7,127.8 L350.7,126.8 L346.7,125.7 L342.7,124.7 L338.7,123.6 L334.8,122.7 L331.0,121.7 L327.5,120.8 L324.1,120.0 L320.9,119.3 L317.9,118.7 L314.9,118.1 L312.1,117.6 L309.3,117.2 L306.5,116.8 L303.5,116.5 L300.4,116.2 L297.0,116.0 L293.6,115.8 L290.0,115.6 L286.6,115.4 L283.5,115.3 L280.9,115.2 L279.1,115.2 L278.0,115.2 L277.6,115.2 L277.5,115.2Z" fill="#FFF5EE" fill-opacity="0.55"/>
<path d="M277.5,87.0 L277.6,87.0 L278.0,87.0 L279.1,87.0 L280.9,87.0 L283.5,87.1 L286.6,87.1 L290.0,87.2 L293.6,87.4 L297.0,87.5 L300.4,87.7 L303.5,87.8 L306.5,88.1 L309.3,88.3 L312.1,88.6 L314.9,88.9 L317.9,89.3 L320.9,89.7 L324.1,90.2 L327.5,90.7 L331.0,91.3 L334.8,92.0 L338.7,92.6 L342.7,93.3 L346.7,94.0 L350.7,94.7 L354.7,95.4 L358.6,96.1 L362.4,96.7 L365.9,97.3 L369.3,97.8 L372.5,98.3 L375.5,98.7 L378.5,99.1 L381.3,99.4 L384.1,99.7 L386.9,99.9 L389.9,100.2 L393.0,100.3 L396.4,100.5 L399.8,100.7 L403.4,100.8 L406.8,100.9 L409.9,100.9 L412.5,101.0 L414.3,101.0 L415.4,101.0 L415.8,101.1 L415.9,101.1" fill="none" stroke="#6a6a6a" stroke-width="1.1" stroke-dasharray="8.8,5.8" stroke-dashoffset="-3"/>
<path d="M277.5,115.2 L277.6,115.2 L278.0,115.2 L279.1,115.2 L280.9,115.2 L283.5,115.3 L286.6,115.4 L290.0,115.6 L293.6,115.8 L297.0,116.0 L300.4,116.2 L303.5,116.5 L306.5,116.8 L309.3,117.2 L312.1,117.6 L314.9,118.1 L317.9,118.7 L320.9,119.3 L324.1,120.0 L327.5,120.8 L331.0,121.7 L334.8,122.7 L338.7,123.6 L342.7,124.7 L346.7,125.7 L350.7,126.8 L354.7,127.8 L358.6,128.8 L362.4,129.8 L365.9,130.6 L369.3,131.4 L372.5,132.1 L375.5,132.8 L378.5,133.4 L381.3,133.8 L384.1,134.3 L386.9,134.6 L389.9,135.0 L393.0,135.2 L396.4,135.5 L399.8,135.7 L403.4,135.9 L406.8,136.0 L409.9,136.1 L412.5,136.2 L414.3,136.3 L415.4,136.3 L415.8,136.3 L415.9,136.3" fill="none" stroke="#6a6a6a" stroke-width="1.1" stroke-dasharray="8.8,5.8" stroke-dashoffset="-3"/>
<path d="M277.5,72.9 L277.6,72.9 L278.0,72.9 L279.1,72.9 L280.9,72.9 L283.5,72.9 L286.6,72.9 L290.0,72.9 L293.6,72.9 L297.0,72.9 L300.4,72.9 L303.5,72.9 L306.5,72.9 L309.3,72.9 L312.1,72.9 L314.9,72.9 L317.9,72.9 L320.9,72.9 L324.1,72.9 L327.5,72.9 L331.0,72.9 L334.8,72.9 L338.7,72.9 L342.7,72.9 L346.7,72.9 L350.7,72.9 L354.7,72.9 L358.6,72.9 L362.4,72.9 L365.9,72.9 L369.3,72.9 L372.5,72.9 L375.5,72.9 L378.5,72.9 L381.3,72.9 L384.1,72.9 L386.9,72.9 L389.9,72.9 L393.0,72.9 L396.4,72.9 L399.8,72.9 L403.4,72.9 L406.8,72.9 L409.9,72.9 L412.5,72.9 L414.3,72.9 L415.4,72.9 L415.8,72.9 L415.9,72.9 L415.9,101.1 L415.8,101.1 L415.4,101.0 L414.3,101.0 L412.5,101.0 L409.9,100.9 L406.8,100.9 L403.4,100.8 L399.8,100.7 L396.4,100.5 L393.0,100.3 L389.9,100.2 L386.9,99.9 L384.1,99.7 L381.3,99.4 L378.5,99.1 L375.5,98.7 L372.5,98.3 L369.3,97.8 L365.9,97.3 L362.4,96.7 L358.6,96.1 L354.7,95.4 L350.7,94.7 L346.7,94.0 L342.7,93.3 L338.7,92.6 L334.8,92.0 L331.0,91.3 L327.5,90.7 L324.1,90.2 L320.9,89.7 L317.9,89.3 L314.9,88.9 L312.1,88.6 L309.3,88.3 L306.5,88.1 L303.5,87.8 L300.4,87.7 L297.0,87.5 L293.6,87.4 L290.0,87.2 L286.6,87.1 L283.5,87.1 L280.9,87.0 L279.1,87.0 L278.0,87.0 L277.6,87.0 L277.5,87.0Z" fill="#EEB4EE" fill-opacity="0.55"/>
<path d="M277.5,72.9 L277.6,72.9 L278.0,72.9 L279.1,72.9 L280.9,72.9 L283.5,72.9 L286.6,72.9 L290.0,72.9 L293.6,72.9 L297.0,72.9 L300.4,72.9 L303.5,72.9 L306.5,72.9 L309.3,72.9 L312.1,72.9 L314.9,72.9 L317.9,72.9 L320.9,72.9 L324.1,72.9 L327.5,72.9 L331.0,72.9 L334.8,72.9 L338.7,72.9 L342.7,72.9 L346.7,72.9 L350.7,72.9 L354.7,72.9 L358.6,72.9 L362.4,72.9 L365.9,72.9 L369.3,72.9 L372.5,72.9 L375.5,72.9 L378.5,72.9 L381.3,72.9 L384.1,72.9 L386.9,72.9 L389.9,72.9 L393.0,72.9 L396.4,72.9 L399.8,72.9 L403.4,72.9 L406.8,72.9 L409.9,72.9 L412.5,72.9 L414.3,72.9 L415.4,72.9 L415.8,72.9 L415.9,72.9" fill="none" stroke="#6a6a6a" stroke-width="1.1" stroke-dasharray="8.8,5.8" stroke-dashoffset="-3"/>
<path d="M277.5,87.0 L277.6,87.0 L278.0,87.0 L279.1,87.0 L280.9,87.0 L283.5,87.1 L286.6,87.1 L290.0,87.2 L293.6,87.4 L297.0,87.5 L300.4,87.7 L303.5,87.8 L306.5,88.1 L309.3,88.3 L312.1,88.6 L314.9,88.9 L317.9,89.3 L320.9,89.7 L324.1,90.2 L327.5,90.7 L331.0,91.3 L334.8,92.0 L338.7,92.6 L342.7,93.3 L346.7,94.0 L350.7,94.7 L354.7,95.4 L358.6,96.1 L362.4,96.7 L365.9,97.3 L369.3,97.8 L372.5,98.3 L375.5,98.7 L378.5,99.1 L381.3,99.4 L384.1,99.7 L386.9,99.9 L389.9,100.2 L393.0,100.3 L396.4,100.5 L399.8,100.7 L403.4,100.8 L406.8,100.9 L409.9,100.9 L412.5,101.0 L414.3,101.0 L415.4,101.0 L415.8,101.1 L415.9,101.1" fill="none" stroke="#6a6a6a" stroke-width="1.1" stroke-dasharray="8.8,5.8" stroke-dashoffset="-3"/>
<rect x="207.70" y="72.85" width="69.80" height="698.05" fill="none" stroke="#fff" stroke-opacity="0.45" stroke-width="6"/>
<rect x="415.90" y="72.85" width="71.10" height="698.05" fill="none" stroke="#fff" stroke-opacity="0.45" stroke-width="6"/>
<rect x="207.70" y="658.08" width="69.80" height="112.82" fill="#BF63D8" stroke="#000" stroke-width="1.8"/>
<rect x="207.70" y="256.18" width="69.80" height="401.91" fill="#A51422" stroke="#000" stroke-width="1.8"/>
<rect x="207.70" y="220.92" width="69.80" height="35.26" fill="#333333" stroke="#000" stroke-width="1.8"/>
<rect x="207.70" y="213.87" width="69.80" height="7.05" fill="#A6CEE3" stroke="#000" stroke-width="1.8"/>
<rect x="207.70" y="171.56" width="69.80" height="42.31" fill="#FFDC3A" stroke="#000" stroke-width="1.8"/>
<rect x="207.70" y="157.46" width="69.80" height="14.10" fill="#E4F3E0" stroke="#000" stroke-width="1.8"/>
<rect x="207.70" y="150.41" width="69.80" height="7.05" fill="#17509F" stroke="#000" stroke-width="1.8"/>
<rect x="207.70" y="136.31" width="69.80" height="14.10" fill="#808080" stroke="#000" stroke-width="1.8"/>
<rect x="207.70" y="129.26" width="69.80" height="7.05" fill="#FA7254" stroke="#000" stroke-width="1.8"/>
<rect x="207.70" y="115.16" width="69.80" height="14.10" fill="#B9EEB9" stroke="#000" stroke-width="1.8"/>
<rect x="207.70" y="86.95" width="69.80" height="28.20" fill="#FFF5EE" stroke="#000" stroke-width="1.8"/>
<rect x="207.70" y="72.85" width="69.80" height="14.10" fill="#EEB4EE" stroke="#000" stroke-width="1.8"/>
<rect x="415.90" y="608.73" width="71.10" height="162.17" fill="#BF63D8" stroke="#000" stroke-width="1.8"/>
<rect x="415.90" y="580.52" width="71.10" height="28.20" fill="#A51422" stroke="#000" stroke-width="1.8"/>
<rect x="415.90" y="573.47" width="71.10" height="7.05" fill="#333333" stroke="#000" stroke-width="1.8"/>
<rect x="415.90" y="566.42" width="71.10" height="7.05" fill="#A6CEE3" stroke="#000" stroke-width="1.8"/>
<rect x="415.90" y="559.37" width="71.10" height="7.05" fill="#808080" stroke="#000" stroke-width="1.8"/>
<rect x="415.90" y="545.27" width="71.10" height="14.10" fill="#FA7254" stroke="#000" stroke-width="1.8"/>
<rect x="415.90" y="136.31" width="71.10" height="408.96" fill="#B9EEB9" stroke="#000" stroke-width="1.8"/>
<rect x="415.90" y="101.05" width="71.10" height="35.25" fill="#FFF5EE" stroke="#000" stroke-width="1.8"/>
<rect x="415.90" y="72.85" width="71.10" height="28.20" fill="#EEB4EE" stroke="#000" stroke-width="1.8"/>
<rect x="116.6" y="30.8" width="461.5" height="774.9000000000001" fill="none" stroke="#1a1a1a" stroke-width="1.8"/>
<line x1="108.3" x2="116.6" y1="770.90" y2="770.90" stroke="#1a1a1a" stroke-width="1.7"/>
<text transform="translate(66.20,781.71) scale(0.9985,1.0630)" font-family="Liberation Sans, Arial, sans-serif" font-size="26" font-weight="bold" fill="#3d3d3f">0.0</text>
<line x1="108.3" x2="116.6" y1="629.88" y2="629.88" stroke="#1a1a1a" stroke-width="1.7"/>
<text transform="translate(66.20,640.69) scale(0.9985,1.0630)" font-family="Liberation Sans, Arial, sans-serif" font-size="26" font-weight="bold" fill="#3d3d3f">0.2</text>
<line x1="108.3" x2="116.6" y1="488.86" y2="488.86" stroke="#1a1a1a" stroke-width="1.7"/>
<text transform="translate(66.20,499.67) scale(0.9985,1.0630)" font-family="Liberation Sans, Arial, sans-serif" font-size="26" font-weight="bold" fill="#3d3d3f">0.4</text>
<line x1="108.3" x2="116.6" y1="347.84" y2="347.84" stroke="#1a1a1a" stroke-width="1.7"/>
<text transform="translate(66.20,358.65) scale(0.9985,1.0630)" font-family="Liberation Sans, Arial, sans-serif" font-size="26" font-weight="bold" fill="#3d3d3f">0.6</text>
<line x1="108.3" x2="116.6" y1="206.82" y2="206.82" stroke="#1a1a1a" stroke-width="1.7"/>
<text transform="translate(66.20,217.63) scale(0.9985,1.0630)" font-family="Liberation Sans, Arial, sans-serif" font-size="26" font-weight="bold" fill="#3d3d3f">0.8</text>
<line x1="108.3" x2="116.6" y1="65.80" y2="65.80" stroke="#1a1a1a" stroke-width="1.7"/>
<text transform="translate(66.20,76.61) scale(0.9985,1.0630)" font-family="Liberation Sans, Arial, sans-serif" font-size="26" font-weight="bold" fill="#3d3d3f">1.0</text>
<line x1="242.5" x2="242.5" y1="805.7" y2="812.0" stroke="#1a1a1a" stroke-width="1.7"/>
<text transform="translate(220.57,840.93) scale(0.9914,1.0630)" font-family="Liberation Sans, Arial, sans-serif" font-size="26" font-weight="bold" fill="#3d3d3f">103</text>
<line x1="452.3" x2="452.3" y1="805.7" y2="812.0" stroke="#1a1a1a" stroke-width="1.7"/>
<text transform="translate(430.99,840.93) scale(0.9914,1.0630)" font-family="Liberation Sans, Arial, sans-serif" font-size="26" font-weight="bold" fill="#3d3d3f">182</text>
<rect x="765.3" y="30.8" width="462.70000000000005" height="774.9000000000001" fill="#fff"/>
<line x1="765.3" x2="1228.0" y1="770.90" y2="770.90" stroke="#E3E3E3" stroke-width="1.3"/>
<line x1="765.3" x2="1228.0" y1="700.39" y2="700.39" stroke="#E7E7E7" stroke-width="1.2"/>
<line x1="765.3" x2="1228.0" y1="629.88" y2="629.88" stroke="#E3E3E3" stroke-width="1.3"/>
<line x1="765.3" x2="1228.0" y1="559.37" y2="559.37" stroke="#E7E7E7" stroke-width="1.2"/>
<line x1="765.3" x2="1228.0" y1="488.86" y2="488.86" stroke="#E3E3E3" stroke-width="1.3"/>
<line x1="765.3" x2="1228.0" y1="418.35" y2="418.35" stroke="#E7E7E7" stroke-width="1.2"/>
<line x1="765.3" x2="1228.0" y1="347.84" y2="347.84" stroke="#E3E3E3" stroke-width="1.3"/>
<line x1="765.3" x2="1228.0" y1="277.33" y2="277.33" stroke="#E7E7E7" stroke-width="1.2"/>
<line x1="765.3" x2="1228.0" y1="206.82" y2="206.82" stroke="#E3E3E3" stroke-width="1.3"/>
<line x1="765.3" x2="1228.0" y1="136.31" y2="136.31" stroke="#E7E7E7" stroke-width="1.2"/>
<line x1="765.3" x2="1228.0" y1="65.80" y2="65.80" stroke="#E3E3E3" stroke-width="1.3"/>
<line x1="851.3" x2="851.3" y1="30.8" y2="805.7" stroke="#E3E3E3" stroke-width="1.3"/>
<line x1="995.4" x2="995.4" y1="30.8" y2="805.7" stroke="#E3E3E3" stroke-width="1.3"/>
<line x1="1139.7" x2="1139.7" y1="30.8" y2="805.7" stroke="#E3E3E3" stroke-width="1.3"/>
<rect x="765.3" y="30.8" width="462.70000000000005" height="774.9000000000001" fill="none" stroke="#fff" stroke-width="7"/>
<line x1="824.20" x2="878.30" y1="70.65" y2="70.65" stroke="#fff" stroke-width="4.4"/>
<line x1="851.3" x2="851.3" y1="771.40" y2="775.40" stroke="#fff" stroke-width="5"/>
<line x1="825.40" x2="825.40" y1="68.85" y2="774.90" stroke="#fff" stroke-width="4.4"/>
<line x1="968.50" x2="1022.50" y1="78.20" y2="78.20" stroke="#fff" stroke-width="4.4"/>
<line x1="995.4" x2="995.4" y1="771.40" y2="775.40" stroke="#fff" stroke-width="5"/>
<line x1="1112.70" x2="1166.70" y1="63.60" y2="63.60" stroke="#fff" stroke-width="4.4"/>
<line x1="1139.7" x2="1139.7" y1="771.40" y2="775.40" stroke="#fff" stroke-width="5"/>
<line x1="1165.50" x2="1165.50" y1="61.80" y2="774.90" stroke="#fff" stroke-width="4.4"/>
<path d="M874.9,622.8 L874.9,622.8 L875.3,622.9 L876.0,622.9 L877.3,623.0 L879.1,623.2 L881.3,623.4 L883.7,623.7 L886.2,624.0 L888.6,624.5 L890.9,625.0 L893.1,625.5 L895.2,626.2 L897.2,626.9 L899.2,627.8 L901.1,628.7 L903.2,629.9 L905.3,631.2 L907.6,632.6 L909.9,634.2 L912.4,635.9 L915.0,637.8 L917.8,639.8 L920.6,641.9 L923.4,644.0 L926.2,646.1 L929.0,648.2 L931.8,650.1 L934.4,652.0 L936.9,653.8 L939.2,655.4 L941.5,656.8 L943.6,658.1 L945.7,659.2 L947.6,660.2 L949.6,661.1 L951.6,661.8 L953.7,662.5 L955.9,663.0 L958.2,663.5 L960.6,663.9 L963.1,664.3 L965.5,664.6 L967.7,664.8 L969.5,665.0 L970.8,665.1 L971.5,665.1 L971.9,665.1 L971.9,665.1 L971.9,770.9 L971.9,770.9 L971.5,770.9 L970.8,770.9 L969.5,770.9 L967.7,770.9 L965.5,770.9 L963.1,770.9 L960.6,770.9 L958.2,770.9 L955.9,770.9 L953.7,770.9 L951.6,770.9 L949.6,770.9 L947.6,770.9 L945.7,770.9 L943.6,770.9 L941.5,770.9 L939.2,770.9 L936.9,770.9 L934.4,770.9 L931.8,770.9 L929.0,770.9 L926.2,770.9 L923.4,770.9 L920.6,770.9 L917.8,770.9 L915.0,770.9 L912.4,770.9 L909.9,770.9 L907.6,770.9 L905.3,770.9 L903.2,770.9 L901.1,770.9 L899.2,770.9 L897.2,770.9 L895.2,770.9 L893.1,770.9 L890.9,770.9 L888.6,770.9 L886.2,770.9 L883.7,770.9 L881.3,770.9 L879.1,770.9 L877.3,770.9 L876.0,770.9 L875.3,770.9 L874.9,770.9 L874.9,770.9Z" fill="#A6CEE3" fill-opacity="0.55"/>
<path d="M874.9,622.8 L874.9,622.8 L875.3,622.9 L876.0,622.9 L877.3,623.0 L879.1,623.2 L881.3,623.4 L883.7,623.7 L886.2,624.0 L888.6,624.5 L890.9,625.0 L893.1,625.5 L895.2,626.2 L897.2,626.9 L899.2,627.8 L901.1,628.7 L903.2,629.9 L905.3,631.2 L907.6,632.6 L909.9,634.2 L912.4,635.9 L915.0,637.8 L917.8,639.8 L920.6,641.9 L923.4,644.0 L926.2,646.1 L929.0,648.2 L931.8,650.1 L934.4,652.0 L936.9,653.8 L939.2,655.4 L941.5,656.8 L943.6,658.1 L945.7,659.2 L947.6,660.2 L949.6,661.1 L951.6,661.8 L953.7,662.5 L955.9,663.0 L958.2,663.5 L960.6,663.9 L963.1,664.3 L965.5,664.6 L967.7,664.8 L969.5,665.0 L970.8,665.1 L971.5,665.1 L971.9,665.1 L971.9,665.1" fill="none" stroke="#6a6a6a" stroke-width="1.1" stroke-dasharray="8.8,5.8" stroke-dashoffset="-3"/>
<path d="M874.9,770.9 L874.9,770.9 L875.3,770.9 L876.0,770.9 L877.3,770.9 L879.1,770.9 L881.3,770.9 L883.7,770.9 L886.2,770.9 L888.6,770.9 L890.9,770.9 L893.1,770.9 L895.2,770.9 L897.2,770.9 L899.2,770.9 L901.1,770.9 L903.2,770.9 L905.3,770.9 L907.6,770.9 L909.9,770.9 L912.4,770.9 L915.0,770.9 L917.8,770.9 L920.6,770.9 L923.4,770.9 L926.2,770.9 L929.0,770.9 L931.8,770.9 L934.4,770.9 L936.9,770.9 L939.2,770.9 L941.5,770.9 L943.6,770.9 L945.7,770.9 L947.6,770.9 L949.6,770.9 L951.6,770.9 L953.7,770.9 L955.9,770.9 L958.2,770.9 L960.6,770.9 L963.1,770.9 L965.5,770.9 L967.7,770.9 L969.5,770.9 L970.8,770.9 L971.5,770.9 L971.9,770.9 L971.9,770.9" fill="none" stroke="#6a6a6a" stroke-width="1.1" stroke-dasharray="8.8,5.8" stroke-dashoffset="-3"/>
<path d="M874.9,298.5 L874.9,298.5 L875.3,298.5 L876.0,298.6 L877.3,298.9 L879.1,299.2 L881.3,299.7 L883.7,300.3 L886.2,301.1 L888.6,302.0 L890.9,303.1 L893.1,304.3 L895.2,305.7 L897.2,307.3 L899.2,309.2 L901.1,311.3 L903.2,313.8 L905.3,316.5 L907.6,319.7 L909.9,323.1 L912.4,326.9 L915.0,331.0 L917.8,335.3 L920.6,339.8 L923.4,344.3 L926.2,348.9 L929.0,353.4 L931.8,357.7 L934.4,361.7 L936.9,365.5 L939.2,369.0 L941.5,372.1 L943.6,374.9 L945.7,377.3 L947.6,379.5 L949.6,381.3 L951.6,382.9 L953.7,384.3 L955.9,385.5 L958.2,386.6 L960.6,387.5 L963.1,388.3 L965.5,388.9 L967.7,389.4 L969.5,389.8 L970.8,390.0 L971.5,390.1 L971.9,390.1 L971.9,390.1 L971.9,665.1 L971.9,665.1 L971.5,665.1 L970.8,665.1 L969.5,665.0 L967.7,664.8 L965.5,664.6 L963.1,664.3 L960.6,663.9 L958.2,663.5 L955.9,663.0 L953.7,662.5 L951.6,661.8 L949.6,661.1 L947.6,660.2 L945.7,659.2 L943.6,658.1 L941.5,656.8 L939.2,655.4 L936.9,653.8 L934.4,652.0 L931.8,650.1 L929.0,648.2 L926.2,646.1 L923.4,644.0 L920.6,641.9 L917.8,639.8 L915.0,637.8 L912.4,635.9 L909.9,634.2 L907.6,632.6 L905.3,631.2 L903.2,629.9 L901.1,628.7 L899.2,627.8 L897.2,626.9 L895.2,626.2 L893.1,625.5 L890.9,625.0 L888.6,624.5 L886.2,624.0 L883.7,623.7 L881.3,623.4 L879.1,623.2 L877.3,623.0 L876.0,622.9 L875.3,622.9 L874.9,622.8 L874.9,622.8Z" fill="#FA7254" fill-opacity="0.55"/>
<path d="M874.9,298.5 L874.9,298.5 L875.3,298.5 L876.0,298.6 L877.3,298.9 L879.1,299.2 L881.3,299.7 L883.7,300.3 L886.2,301.1 L888.6,302.0 L890.9,303.1 L893.1,304.3 L895.2,305.7 L897.2,307.3 L899.2,309.2 L901.1,311.3 L903.2,313.8 L905.3,316.5 L907.6,319.7 L909.9,323.1 L912.4,326.9 L915.0,331.0 L917.8,335.3 L920.6,339.8 L923.4,344.3 L926.2,348.9 L929.0,353.4 L931.8,357.7 L934.4,361.7 L936.9,365.5 L939.2,369.0 L941.5,372.1 L943.6,374.9 L945.7,377.3 L947.6,379.5 L949.6,381.3 L951.6,382.9 L953.7,384.3 L955.9,385.5 L958.2,386.6 L960.6,387.5 L963.1,388.3 L965.5,388.9 L967.7,389.4 L969.5,389.8 L970.8,390.0 L971.5,390.1 L971.9,390.1 L971.9,390.1" fill="none" stroke="#6a6a6a" stroke-width="1.1" stroke-dasharray="8.8,5.8" stroke-dashoffset="-3"/>
<path d="M874.9,622.8 L874.9,622.8 L875.3,622.9 L876.0,622.9 L877.3,623.0 L879.1,623.2 L881.3,623.4 L883.7,623.7 L886.2,624.0 L888.6,624.5 L890.9,625.0 L893.1,625.5 L895.2,626.2 L897.2,626.9 L899.2,627.8 L901.1,628.7 L903.2,629.9 L905.3,631.2 L907.6,632.6 L909.9,634.2 L912.4,635.9 L915.0,637.8 L917.8,639.8 L920.6,641.9 L923.4,644.0 L926.2,646.1 L929.0,648.2 L931.8,650.1 L934.4,652.0 L936.9,653.8 L939.2,655.4 L941.5,656.8 L943.6,658.1 L945.7,659.2 L947.6,660.2 L949.6,661.1 L951.6,661.8 L953.7,662.5 L955.9,663.0 L958.2,663.5 L960.6,663.9 L963.1,664.3 L965.5,664.6 L967.7,664.8 L969.5,665.0 L970.8,665.1 L971.5,665.1 L971.9,665.1 L971.9,665.1" fill="none" stroke="#6a6a6a" stroke-width="1.1" stroke-dasharray="8.8,5.8" stroke-dashoffset="-3"/>
<path d="M874.9,220.9 L874.9,220.9 L875.3,220.9 L876.0,220.8 L877.3,220.7 L879.1,220.6 L881.3,220.4 L883.7,220.1 L886.2,219.7 L888.6,219.3 L890.9,218.8 L893.1,218.2 L895.2,217.6 L897.2,216.9 L899.2,216.0 L901.1,215.0 L903.2,213.9 L905.3,212.6 L907.6,211.1 L909.9,209.5 L912.4,207.8 L915.0,205.9 L917.8,203.9 L920.6,201.9 L923.4,199.8 L926.2,197.7 L929.0,195.6 L931.8,193.6 L934.4,191.7 L936.9,190.0 L939.2,188.4 L941.5,187.0 L943.6,185.7 L945.7,184.5 L947.6,183.5 L949.6,182.7 L951.6,181.9 L953.7,181.3 L955.9,180.7 L958.2,180.3 L960.6,179.8 L963.1,179.5 L965.5,179.2 L967.7,179.0 L969.5,178.8 L970.8,178.7 L971.5,178.6 L971.9,178.6 L971.9,178.6 L971.9,390.1 L971.9,390.1 L971.5,390.1 L970.8,390.0 L969.5,389.8 L967.7,389.4 L965.5,388.9 L963.1,388.3 L960.6,387.5 L958.2,386.6 L955.9,385.5 L953.7,384.3 L951.6,382.9 L949.6,381.3 L947.6,379.5 L945.7,377.3 L943.6,374.9 L941.5,372.1 L939.2,369.0 L936.9,365.5 L934.4,361.7 L931.8,357.7 L929.0,353.4 L926.2,348.9 L923.4,344.3 L920.6,339.8 L917.8,335.3 L915.0,331.0 L912.4,326.9 L909.9,323.1 L907.6,319.7 L905.3,316.5 L903.2,313.8 L901.1,311.3 L899.2,309.2 L897.2,307.3 L895.2,305.7 L893.1,304.3 L890.9,303.1 L888.6,302.0 L886.2,301.1 L883.7,300.3 L881.3,299.7 L879.1,299.2 L877.3,298.9 L876.0,298.6 L875.3,298.5 L874.9,298.5 L874.9,298.5Z" fill="#D2C27D" fill-opacity="0.55"/>
<path d="M874.9,220.9 L874.9,220.9 L875.3,220.9 L876.0,220.8 L877.3,220.7 L879.1,220.6 L881.3,220.4 L883.7,220.1 L886.2,219.7 L888.6,219.3 L890.9,218.8 L893.1,218.2 L895.2,217.6 L897.2,216.9 L899.2,216.0 L901.1,215.0 L903.2,213.9 L905.3,212.6 L907.6,211.1 L909.9,209.5 L912.4,207.8 L915.0,205.9 L917.8,203.9 L920.6,201.9 L923.4,199.8 L926.2,197.7 L929.0,195.6 L931.8,193.6 L934.4,191.7 L936.9,190.0 L939.2,188.4 L941.5,187.0 L943.6,185.7 L945.7,184.5 L947.6,183.5 L949.6,182.7 L951.6,181.9 L953.7,181.3 L955.9,180.7 L958.2,180.3 L960.6,179.8 L963.1,179.5 L965.5,179.2 L967.7,179.0 L969.5,178.8 L970.8,178.7 L971.5,178.6 L971.9,178.6 L971.9,178.6" fill="none" stroke="#6a6a6a" stroke-width="1.1" stroke-dasharray="8.8,5.8" stroke-dashoffset="-3"/>
<path d="M874.9,298.5 L874.9,298.5 L875.3,298.5 L876.0,298.6 L877.3,298.9 L879.1,299.2 L881.3,299.7 L883.7,300.3 L886.2,301.1 L888.6,302.0 L890.9,303.1 L893.1,304.3 L895.2,305.7 L897.2,307.3 L899.2,309.2 L901.1,311.3 L903.2,313.8 L905.3,316.5 L907.6,319.7 L909.9,323.1 L912.4,326.9 L915.0,331.0 L917.8,335.3 L920.6,339.8 L923.4,344.3 L926.2,348.9 L929.0,353.4 L931.8,357.7 L934.4,361.7 L936.9,365.5 L939.2,369.0 L941.5,372.1 L943.6,374.9 L945.7,377.3 L947.6,379.5 L949.6,381.3 L951.6,382.9 L953.7,384.3 L955.9,385.5 L958.2,386.6 L960.6,387.5 L963.1,388.3 L965.5,388.9 L967.7,389.4 L969.5,389.8 L970.8,390.0 L971.5,390.1 L971.9,390.1 L971.9,390.1" fill="none" stroke="#6a6a6a" stroke-width="1.1" stroke-dasharray="8.8,5.8" stroke-dashoffset="-3"/>
<path d="M874.9,72.9 L874.9,72.9 L875.3,72.9 L876.0,72.9 L877.3,72.9 L879.1,72.9 L881.3,73.0 L883.7,73.0 L886.2,73.1 L888.6,73.1 L890.9,73.2 L893.1,73.3 L895.2,73.4 L897.2,73.6 L899.2,73.7 L901.1,73.9 L903.2,74.1 L905.3,74.3 L907.6,74.6 L909.9,74.9 L912.4,75.2 L915.0,75.5 L917.8,75.9 L920.6,76.2 L923.4,76.6 L926.2,77.0 L929.0,77.4 L931.8,77.7 L934.4,78.1 L936.9,78.4 L939.2,78.7 L941.5,78.9 L943.6,79.1 L945.7,79.3 L947.6,79.5 L949.6,79.7 L951.6,79.8 L953.7,79.9 L955.9,80.0 L958.2,80.1 L960.6,80.2 L963.1,80.2 L965.5,80.3 L967.7,80.3 L969.5,80.4 L970.8,80.4 L971.5,80.4 L971.9,80.4 L971.9,80.4 L971.9,178.6 L971.9,178.6 L971.5,178.6 L970.8,178.7 L969.5,178.8 L967.7,179.0 L965.5,179.2 L963.1,179.5 L960.6,179.8 L958.2,180.3 L955.9,180.7 L953.7,181.3 L951.6,181.9 L949.6,182.7 L947.6,183.5 L945.7,184.5 L943.6,185.7 L941.5,187.0 L939.2,188.4 L936.9,190.0 L934.4,191.7 L931.8,193.6 L929.0,195.6 L926.2,197.7 L923.4,199.8 L920.6,201.9 L917.8,203.9 L915.0,205.9 L912.4,207.8 L909.9,209.5 L907.6,211.1 L905.3,212.6 L903.2,213.9 L901.1,215.0 L899.2,216.0 L897.2,216.9 L895.2,217.6 L893.1,218.2 L890.9,218.8 L888.6,219.3 L886.2,219.7 L883.7,220.1 L881.3,220.4 L879.1,220.6 L877.3,220.7 L876.0,220.8 L875.3,220.9 L874.9,220.9 L874.9,220.9Z" fill="#EEB4EE" fill-opacity="0.55"/>
<path d="M874.9,72.9 L874.9,72.9 L875.3,72.9 L876.0,72.9 L877.3,72.9 L879.1,72.9 L881.3,73.0 L883.7,73.0 L886.2,73.1 L888.6,73.1 L890.9,73.2 L893.1,73.3 L895.2,73.4 L897.2,73.6 L899.2,73.7 L901.1,73.9 L903.2,74.1 L905.3,74.3 L907.6,74.6 L909.9,74.9 L912.4,75.2 L915.0,75.5 L917.8,75.9 L920.6,76.2 L923.4,76.6 L926.2,77.0 L929.0,77.4 L931.8,77.7 L934.4,78.1 L936.9,78.4 L939.2,78.7 L941.5,78.9 L943.6,79.1 L945.7,79.3 L947.6,79.5 L949.6,79.7 L951.6,79.8 L953.7,79.9 L955.9,80.0 L958.2,80.1 L960.6,80.2 L963.1,80.2 L965.5,80.3 L967.7,80.3 L969.5,80.4 L970.8,80.4 L971.5,80.4 L971.9,80.4 L971.9,80.4" fill="none" stroke="#6a6a6a" stroke-width="1.1" stroke-dasharray="8.8,5.8" stroke-dashoffset="-3"/>
<path d="M874.9,220.9 L874.9,220.9 L875.3,220.9 L876.0,220.8 L877.3,220.7 L879.1,220.6 L881.3,220.4 L883.7,220.1 L886.2,219.7 L888.6,219.3 L890.9,218.8 L893.1,218.2 L895.2,217.6 L897.2,216.9 L899.2,216.0 L901.1,215.0 L903.2,213.9 L905.3,212.6 L907.6,211.1 L909.9,209.5 L912.4,207.8 L915.0,205.9 L917.8,203.9 L920.6,201.9 L923.4,199.8 L926.2,197.7 L929.0,195.6 L931.8,193.6 L934.4,191.7 L936.9,190.0 L939.2,188.4 L941.5,187.0 L943.6,185.7 L945.7,184.5 L947.6,183.5 L949.6,182.7 L951.6,181.9 L953.7,181.3 L955.9,180.7 L958.2,180.3 L960.6,179.8 L963.1,179.5 L965.5,179.2 L967.7,179.0 L969.5,178.8 L970.8,178.7 L971.5,178.6 L971.9,178.6 L971.9,178.6" fill="none" stroke="#6a6a6a" stroke-width="1.1" stroke-dasharray="8.8,5.8" stroke-dashoffset="-3"/>
<path d="M1019.1,665.1 L1019.1,665.1 L1019.5,665.2 L1020.2,665.3 L1021.5,665.5 L1023.3,665.8 L1025.5,666.3 L1027.9,666.8 L1030.4,667.5 L1032.8,668.4 L1035.1,669.3 L1037.3,670.5 L1039.4,671.7 L1041.4,673.2 L1043.4,674.9 L1045.3,676.9 L1047.4,679.1 L1049.5,681.7 L1051.8,684.5 L1054.1,687.7 L1056.6,691.2 L1059.2,694.9 L1062.0,698.8 L1064.8,702.9 L1067.6,707.1 L1070.4,711.3 L1073.2,715.4 L1076.0,719.3 L1078.6,723.0 L1081.1,726.5 L1083.4,729.6 L1085.7,732.5 L1087.8,735.1 L1089.9,737.3 L1091.8,739.3 L1093.8,741.0 L1095.8,742.4 L1097.9,743.7 L1100.1,744.8 L1102.4,745.8 L1104.8,746.6 L1107.3,747.3 L1109.7,747.9 L1111.9,748.4 L1113.7,748.7 L1115.0,748.9 L1115.7,749.0 L1116.1,749.0 L1116.1,749.0 L1116.1,770.9 L1116.1,770.9 L1115.7,770.9 L1115.0,770.9 L1113.7,770.9 L1111.9,770.9 L1109.7,770.9 L1107.3,770.9 L1104.8,770.9 L1102.4,770.9 L1100.1,770.9 L1097.9,770.9 L1095.8,770.9 L1093.8,770.9 L1091.8,770.9 L1089.9,770.9 L1087.8,770.9 L1085.7,770.9 L1083.4,770.9 L1081.1,770.9 L1078.6,770.9 L1076.0,770.9 L1073.2,770.9 L1070.4,770.9 L1067.6,770.9 L1064.8,770.9 L1062.0,770.9 L1059.2,770.9 L1056.6,770.9 L1054.1,770.9 L1051.8,770.9 L1049.5,770.9 L1047.4,770.9 L1045.3,770.9 L1043.4,770.9 L1041.4,770.9 L1039.4,770.9 L1037.3,770.9 L1035.1,770.9 L1032.8,770.9 L1030.4,770.9 L1027.9,770.9 L1025.5,770.9 L1023.3,770.9 L1021.5,770.9 L1020.2,770.9 L1019.5,770.9 L1019.1,770.9 L1019.1,770.9Z" fill="#A6CEE3" fill-opacity="0.55"/>
<path d="M1019.1,665.1 L1019.1,665.1 L1019.5,665.2 L1020.2,665.3 L1021.5,665.5 L1023.3,665.8 L1025.5,666.3 L1027.9,666.8 L1030.4,667.5 L1032.8,668.4 L1035.1,669.3 L1037.3,670.5 L1039.4,671.7 L1041.4,673.2 L1043.4,674.9 L1045.3,676.9 L1047.4,679.1 L1049.5,681.7 L1051.8,684.5 L1054.1,687.7 L1056.6,691.2 L1059.2,694.9 L1062.0,698.8 L1064.8,702.9 L1067.6,707.1 L1070.4,711.3 L1073.2,715.4 L1076.0,719.3 L1078.6,723.0 L1081.1,726.5 L1083.4,729.6 L1085.7,732.5 L1087.8,735.1 L1089.9,737.3 L1091.8,739.3 L1093.8,741.0 L1095.8,742.4 L1097.9,743.7 L1100.1,744.8 L1102.4,745.8 L1104.8,746.6 L1107.3,747.3 L1109.7,747.9 L1111.9,748.4 L1113.7,748.7 L1115.0,748.9 L1115.7,749.0 L1116.1,749.0 L1116.1,749.0" fill="none" stroke="#6a6a6a" stroke-width="1.1" stroke-dasharray="8.8,5.8" stroke-dashoffset="-3"/>
<path d="M1019.1,770.9 L1019.1,770.9 L1019.5,770.9 L1020.2,770.9 L1021.5,770.9 L1023.3,770.9 L1025.5,770.9 L1027.9,770.9 L1030.4,770.9 L1032.8,770.9 L1035.1,770.9 L1037.3,770.9 L1039.4,770.9 L1041.4,770.9 L1043.4,770.9 L1045.3,770.9 L1047.4,770.9 L1049.5,770.9 L1051.8,770.9 L1054.1,770.9 L1056.6,770.9 L1059.2,770.9 L1062.0,770.9 L1064.8,770.9 L1067.6,770.9 L1070.4,770.9 L1073.2,770.9 L1076.0,770.9 L1078.6,770.9 L1081.1,770.9 L1083.4,770.9 L1085.7,770.9 L1087.8,770.9 L1089.9,770.9 L1091.8,770.9 L1093.8,770.9 L1095.8,770.9 L1097.9,770.9 L1100.1,770.9 L1102.4,770.9 L1104.8,770.9 L1107.3,770.9 L1109.7,770.9 L1111.9,770.9 L1113.7,770.9 L1115.0,770.9 L1115.7,770.9 L1116.1,770.9 L1116.1,770.9" fill="none" stroke="#6a6a6a" stroke-width="1.1" stroke-dasharray="8.8,5.8" stroke-dashoffset="-3"/>
<path d="M1019.1,390.1 L1019.1,390.2 L1019.5,390.3 L1020.2,390.7 L1021.5,391.4 L1023.3,392.5 L1025.5,394.1 L1027.9,396.1 L1030.4,398.6 L1032.8,401.6 L1035.1,405.0 L1037.3,408.9 L1039.4,413.4 L1041.4,418.5 L1043.4,424.5 L1045.3,431.4 L1047.4,439.4 L1049.5,448.4 L1051.8,458.4 L1054.1,469.6 L1056.6,481.8 L1059.2,494.9 L1062.0,508.7 L1064.8,523.2 L1067.6,537.9 L1070.4,552.6 L1073.2,567.0 L1076.0,580.9 L1078.6,594.0 L1081.1,606.2 L1083.4,617.3 L1085.7,627.4 L1087.8,636.3 L1089.9,644.3 L1091.8,651.2 L1093.8,657.2 L1095.8,662.4 L1097.9,666.8 L1100.1,670.7 L1102.4,674.2 L1104.8,677.1 L1107.3,679.6 L1109.7,681.6 L1111.9,683.2 L1113.7,684.4 L1115.0,685.1 L1115.7,685.4 L1116.1,685.6 L1116.1,685.6 L1116.1,741.3 L1116.1,741.3 L1115.7,741.2 L1115.0,741.2 L1113.7,741.0 L1111.9,740.7 L1109.7,740.3 L1107.3,739.7 L1104.8,739.1 L1102.4,738.3 L1100.1,737.5 L1097.9,736.5 L1095.8,735.3 L1093.8,734.0 L1091.8,732.4 L1089.9,730.6 L1087.8,728.6 L1085.7,726.3 L1083.4,723.7 L1081.1,720.8 L1078.6,717.7 L1076.0,714.3 L1073.2,710.7 L1070.4,707.0 L1067.6,703.2 L1064.8,699.4 L1062.0,695.7 L1059.2,692.1 L1056.6,688.7 L1054.1,685.6 L1051.8,682.7 L1049.5,680.1 L1047.4,677.8 L1045.3,675.8 L1043.4,674.0 L1041.4,672.5 L1039.4,671.1 L1037.3,670.0 L1035.1,669.0 L1032.8,668.1 L1030.4,667.3 L1027.9,666.7 L1025.5,666.1 L1023.3,665.7 L1021.5,665.4 L1020.2,665.3 L1019.5,665.2 L1019.1,665.1 L1019.1,665.1Z" fill="#FA7254" fill-opacity="0.55"/>
<path d="M1019.1,390.1 L1019.1,390.2 L1019.5,390.3 L1020.2,390.7 L1021.5,391.4 L1023.3,392.5 L1025.5,394.1 L1027.9,396.1 L1030.4,398.6 L1032.8,401.6 L1035.1,405.0 L1037.3,408.9 L1039.4,413.4 L1041.4,418.5 L1043.4,424.5 L1045.3,431.4 L1047.4,439.4 L1049.5,448.4 L1051.8,458.4 L1054.1,469.6 L1056.6,481.8 L1059.2,494.9 L1062.0,508.7 L1064.8,523.2 L1067.6,537.9 L1070.4,552.6 L1073.2,567.0 L1076.0,580.9 L1078.6,594.0 L1081.1,606.2 L1083.4,617.3 L1085.7,627.4 L1087.8,636.3 L1089.9,644.3 L1091.8,651.2 L1093.8,657.2 L1095.8,662.4 L1097.9,666.8 L1100.1,670.7 L1102.4,674.2 L1104.8,677.1 L1107.3,679.6 L1109.7,681.6 L1111.9,683.2 L1113.7,684.4 L1115.0,685.1 L1115.7,685.4 L1116.1,685.6 L1116.1,685.6" fill="none" stroke="#6a6a6a" stroke-width="1.1" stroke-dasharray="8.8,5.8" stroke-dashoffset="-3"/>
<path d="M1019.1,665.1 L1019.1,665.1 L1019.5,665.2 L1020.2,665.3 L1021.5,665.4 L1023.3,665.7 L1025.5,666.1 L1027.9,666.7 L1030.4,667.3 L1032.8,668.1 L1035.1,669.0 L1037.3,670.0 L1039.4,671.1 L1041.4,672.5 L1043.4,674.0 L1045.3,675.8 L1047.4,677.8 L1049.5,680.1 L1051.8,682.7 L1054.1,685.6 L1056.6,688.7 L1059.2,692.1 L1062.0,695.7 L1064.8,699.4 L1067.6,703.2 L1070.4,707.0 L1073.2,710.7 L1076.0,714.3 L1078.6,717.7 L1081.1,720.8 L1083.4,723.7 L1085.7,726.3 L1087.8,728.6 L1089.9,730.6 L1091.8,732.4 L1093.8,734.0 L1095.8,735.3 L1097.9,736.5 L1100.1,737.5 L1102.4,738.3 L1104.8,739.1 L1107.3,739.7 L1109.7,740.3 L1111.9,740.7 L1113.7,741.0 L1115.0,741.2 L1115.7,741.2 L1116.1,741.3 L1116.1,741.3" fill="none" stroke="#6a6a6a" stroke-width="1.1" stroke-dasharray="8.8,5.8" stroke-dashoffset="-3"/>
<path d="M1019.1,178.6 L1019.1,178.6 L1019.5,178.6 L1020.2,178.5 L1021.5,178.2 L1023.3,177.9 L1025.5,177.4 L1027.9,176.8 L1030.4,176.0 L1032.8,175.1 L1035.1,174.1 L1037.3,172.9 L1039.4,171.5 L1041.4,169.9 L1043.4,168.0 L1045.3,165.9 L1047.4,163.5 L1049.5,160.7 L1051.8,157.6 L1054.1,154.2 L1056.6,150.5 L1059.2,146.4 L1062.0,142.2 L1064.8,137.7 L1067.6,133.2 L1070.4,128.7 L1073.2,124.3 L1076.0,120.0 L1078.6,116.0 L1081.1,112.2 L1083.4,108.8 L1085.7,105.7 L1087.8,102.9 L1089.9,100.5 L1091.8,98.4 L1093.8,96.5 L1095.8,94.9 L1097.9,93.6 L1100.1,92.4 L1102.4,91.3 L1104.8,90.4 L1107.3,89.6 L1109.7,89.0 L1111.9,88.5 L1113.7,88.2 L1115.0,88.0 L1115.7,87.8 L1116.1,87.8 L1116.1,87.8 L1116.1,678.9 L1116.1,678.9 L1115.7,678.7 L1115.0,678.4 L1113.7,677.7 L1111.9,676.6 L1109.7,675.0 L1107.3,673.0 L1104.8,670.6 L1102.4,667.7 L1100.1,664.4 L1097.9,660.6 L1095.8,656.2 L1093.8,651.1 L1091.8,645.3 L1089.9,638.5 L1087.8,630.8 L1085.7,622.0 L1083.4,612.1 L1081.1,601.3 L1078.6,589.4 L1076.0,576.5 L1073.2,563.0 L1070.4,548.9 L1067.6,534.5 L1064.8,520.1 L1062.0,506.1 L1059.2,492.5 L1056.6,479.7 L1054.1,467.8 L1051.8,456.9 L1049.5,447.1 L1047.4,438.3 L1045.3,430.5 L1043.4,423.7 L1041.4,417.9 L1039.4,412.8 L1037.3,408.5 L1035.1,404.6 L1032.8,401.3 L1030.4,398.4 L1027.9,396.0 L1025.5,394.0 L1023.3,392.4 L1021.5,391.3 L1020.2,390.6 L1019.5,390.3 L1019.1,390.2 L1019.1,390.1Z" fill="#D2C27D" fill-opacity="0.55"/>
<path d="M1019.1,178.6 L1019.1,178.6 L1019.5,178.6 L1020.2,178.5 L1021.5,178.2 L1023.3,177.9 L1025.5,177.4 L1027.9,176.8 L1030.4,176.0 L1032.8,175.1 L1035.1,174.1 L1037.3,172.9 L1039.4,171.5 L1041.4,169.9 L1043.4,168.0 L1045.3,165.9 L1047.4,163.5 L1049.5,160.7 L1051.8,157.6 L1054.1,154.2 L1056.6,150.5 L1059.2,146.4 L1062.0,142.2 L1064.8,137.7 L1067.6,133.2 L1070.4,128.7 L1073.2,124.3 L1076.0,120.0 L1078.6,116.0 L1081.1,112.2 L1083.4,108.8 L1085.7,105.7 L1087.8,102.9 L1089.9,100.5 L1091.8,98.4 L1093.8,96.5 L1095.8,94.9 L1097.9,93.6 L1100.1,92.4 L1102.4,91.3 L1104.8,90.4 L1107.3,89.6 L1109.7,89.0 L1111.9,88.5 L1113.7,88.2 L1115.0,88.0 L1115.7,87.8 L1116.1,87.8 L1116.1,87.8" fill="none" stroke="#6a6a6a" stroke-width="1.1" stroke-dasharray="8.8,5.8" stroke-dashoffset="-3"/>
<path d="M1019.1,390.1 L1019.1,390.2 L1019.5,390.3 L1020.2,390.6 L1021.5,391.3 L1023.3,392.4 L1025.5,394.0 L1027.9,396.0 L1030.4,398.4 L1032.8,401.3 L1035.1,404.6 L1037.3,408.5 L1039.4,412.8 L1041.4,417.9 L1043.4,423.7 L1045.3,430.5 L1047.4,438.3 L1049.5,447.1 L1051.8,456.9 L1054.1,467.8 L1056.6,479.7 L1059.2,492.5 L1062.0,506.1 L1064.8,520.1 L1067.6,534.5 L1070.4,548.9 L1073.2,563.0 L1076.0,576.5 L1078.6,589.4 L1081.1,601.3 L1083.4,612.1 L1085.7,622.0 L1087.8,630.8 L1089.9,638.5 L1091.8,645.3 L1093.8,651.1 L1095.8,656.2 L1097.9,660.6 L1100.1,664.4 L1102.4,667.7 L1104.8,670.6 L1107.3,673.0 L1109.7,675.0 L1111.9,676.6 L1113.7,677.7 L1115.0,678.4 L1115.7,678.7 L1116.1,678.9 L1116.1,678.9" fill="none" stroke="#6a6a6a" stroke-width="1.1" stroke-dasharray="8.8,5.8" stroke-dashoffset="-3"/>
<path d="M1019.1,80.4 L1019.1,80.4 L1019.5,80.4 L1020.2,80.4 L1021.5,80.3 L1023.3,80.3 L1025.5,80.2 L1027.9,80.1 L1030.4,80.0 L1032.8,79.8 L1035.1,79.7 L1037.3,79.5 L1039.4,79.2 L1041.4,79.0 L1043.4,78.7 L1045.3,78.4 L1047.4,78.0 L1049.5,77.5 L1051.8,77.0 L1054.1,76.5 L1056.6,75.9 L1059.2,75.2 L1062.0,74.5 L1064.8,73.8 L1067.6,73.1 L1070.4,72.4 L1073.2,71.7 L1076.0,71.0 L1078.6,70.3 L1081.1,69.7 L1083.4,69.2 L1085.7,68.7 L1087.8,68.2 L1089.9,67.8 L1091.8,67.5 L1093.8,67.2 L1095.8,66.9 L1097.9,66.7 L1100.1,66.5 L1102.4,66.4 L1104.8,66.2 L1107.3,66.1 L1109.7,66.0 L1111.9,65.9 L1113.7,65.9 L1115.0,65.8 L1115.7,65.8 L1116.1,65.8 L1116.1,65.8 L1116.1,87.8 L1116.1,87.8 L1115.7,87.8 L1115.0,88.0 L1113.7,88.2 L1111.9,88.5 L1109.7,89.0 L1107.3,89.6 L1104.8,90.4 L1102.4,91.3 L1100.1,92.4 L1097.9,93.6 L1095.8,94.9 L1093.8,96.5 L1091.8,98.4 L1089.9,100.5 L1087.8,102.9 L1085.7,105.7 L1083.4,108.8 L1081.1,112.2 L1078.6,116.0 L1076.0,120.0 L1073.2,124.3 L1070.4,128.7 L1067.6,133.2 L1064.8,137.7 L1062.0,142.2 L1059.2,146.4 L1056.6,150.5 L1054.1,154.2 L1051.8,157.6 L1049.5,160.7 L1047.4,163.5 L1045.3,165.9 L1043.4,168.0 L1041.4,169.9 L1039.4,171.5 L1037.3,172.9 L1035.1,174.1 L1032.8,175.1 L1030.4,176.0 L1027.9,176.8 L1025.5,177.4 L1023.3,177.9 L1021.5,178.2 L1020.2,178.5 L1019.5,178.6 L1019.1,178.6 L1019.1,178.6Z" fill="#EEB4EE" fill-opacity="0.55"/>
<path d="M1019.1,80.4 L1019.1,80.4 L1019.5,80.4 L1020.2,80.4 L1021.5,80.3 L1023.3,80.3 L1025.5,80.2 L1027.9,80.1 L1030.4,80.0 L1032.8,79.8 L1035.1,79.7 L1037.3,79.5 L1039.4,79.2 L1041.4,79.0 L1043.4,78.7 L1045.3,78.4 L1047.4,78.0 L1049.5,77.5 L1051.8,77.0 L1054.1,76.5 L1056.6,75.9 L1059.2,75.2 L1062.0,74.5 L1064.8,73.8 L1067.6,73.1 L1070.4,72.4 L1073.2,71.7 L1076.0,71.0 L1078.6,70.3 L1081.1,69.7 L1083.4,69.2 L1085.7,68.7 L1087.8,68.2 L1089.9,67.8 L1091.8,67.5 L1093.8,67.2 L1095.8,66.9 L1097.9,66.7 L1100.1,66.5 L1102.4,66.4 L1104.8,66.2 L1107.3,66.1 L1109.7,66.0 L1111.9,65.9 L1113.7,65.9 L1115.0,65.8 L1115.7,65.8 L1116.1,65.8 L1116.1,65.8" fill="none" stroke="#6a6a6a" stroke-width="1.1" stroke-dasharray="8.8,5.8" stroke-dashoffset="-3"/>
<path d="M1019.1,178.6 L1019.1,178.6 L1019.5,178.6 L1020.2,178.5 L1021.5,178.2 L1023.3,177.9 L1025.5,177.4 L1027.9,176.8 L1030.4,176.0 L1032.8,175.1 L1035.1,174.1 L1037.3,172.9 L1039.4,171.5 L1041.4,169.9 L1043.4,168.0 L1045.3,165.9 L1047.4,163.5 L1049.5,160.7 L1051.8,157.6 L1054.1,154.2 L1056.6,150.5 L1059.2,146.4 L1062.0,142.2 L1064.8,137.7 L1067.6,133.2 L1070.4,128.7 L1073.2,124.3 L1076.0,120.0 L1078.6,116.0 L1081.1,112.2 L1083.4,108.8 L1085.7,105.7 L1087.8,102.9 L1089.9,100.5 L1091.8,98.4 L1093.8,96.5 L1095.8,94.9 L1097.9,93.6 L1100.1,92.4 L1102.4,91.3 L1104.8,90.4 L1107.3,89.6 L1109.7,89.0 L1111.9,88.5 L1113.7,88.2 L1115.0,88.0 L1115.7,87.8 L1116.1,87.8 L1116.1,87.8" fill="none" stroke="#6a6a6a" stroke-width="1.1" stroke-dasharray="8.8,5.8" stroke-dashoffset="-3"/>
<rect x="827.60" y="72.85" width="47.30" height="698.05" fill="none" stroke="#fff" stroke-opacity="0.45" stroke-width="6"/>
<rect x="971.90" y="80.40" width="47.20" height="690.50" fill="none" stroke="#fff" stroke-opacity="0.45" stroke-width="6"/>
<rect x="1116.10" y="65.80" width="47.20" height="705.10" fill="none" stroke="#fff" stroke-opacity="0.45" stroke-width="6"/>
<rect x="827.60" y="622.83" width="47.30" height="148.07" fill="#A6CEE3" stroke="#000" stroke-width="1.8"/>
<rect x="827.60" y="298.48" width="47.30" height="324.35" fill="#FA7254" stroke="#000" stroke-width="1.8"/>
<rect x="827.60" y="220.92" width="47.30" height="77.56" fill="#D2C27D" stroke="#000" stroke-width="1.8"/>
<rect x="827.60" y="72.85" width="47.30" height="148.07" fill="#EEB4EE" stroke="#000" stroke-width="1.8"/>
<rect x="971.90" y="665.13" width="47.20" height="105.76" fill="#A6CEE3" stroke="#000" stroke-width="1.8"/>
<rect x="971.90" y="390.15" width="47.20" height="274.99" fill="#FA7254" stroke="#000" stroke-width="1.8"/>
<rect x="971.90" y="178.62" width="47.20" height="211.53" fill="#D2C27D" stroke="#000" stroke-width="1.8"/>
<rect x="971.90" y="80.40" width="47.20" height="98.22" fill="#EEB4EE" stroke="#000" stroke-width="1.8"/>
<rect x="1116.10" y="749.04" width="47.20" height="21.86" fill="#A6CEE3" stroke="#000" stroke-width="1.8"/>
<rect x="1116.10" y="741.29" width="47.20" height="7.76" fill="#45E0D0" stroke="#000" stroke-width="1.8"/>
<rect x="1116.10" y="685.58" width="47.20" height="55.70" fill="#FA7254" stroke="#000" stroke-width="1.8"/>
<rect x="1116.10" y="678.88" width="47.20" height="6.70" fill="#FFF5EE" stroke="#000" stroke-width="1.8"/>
<rect x="1116.10" y="87.80" width="47.20" height="591.09" fill="#D2C27D" stroke="#000" stroke-width="1.8"/>
<rect x="1116.10" y="65.80" width="47.20" height="22.00" fill="#EEB4EE" stroke="#000" stroke-width="1.8"/>
<rect x="765.3" y="30.8" width="462.70000000000005" height="774.9000000000001" fill="none" stroke="#1a1a1a" stroke-width="1.8"/>
<line x1="756.3" x2="758.0" y1="770.90" y2="770.90" stroke="#1a1a1a" stroke-width="1.7"/>
<text transform="translate(714.70,781.71) scale(0.9985,1.0630)" font-family="Liberation Sans, Arial, sans-serif" font-size="26" font-weight="bold" fill="#3d3d3f">0.0</text>
<line x1="756.3" x2="758.0" y1="629.88" y2="629.88" stroke="#1a1a1a" stroke-width="1.7"/>
<text transform="translate(714.70,640.69) scale(0.9985,1.0630)" font-family="Liberation Sans, Arial, sans-serif" font-size="26" font-weight="bold" fill="#3d3d3f">0.2</text>
<line x1="756.3" x2="758.0" y1="488.86" y2="488.86" stroke="#1a1a1a" stroke-width="1.7"/>
<text transform="translate(714.70,499.67) scale(0.9985,1.0630)" font-family="Liberation Sans, Arial, sans-serif" font-size="26" font-weight="bold" fill="#3d3d3f">0.4</text>
<line x1="756.3" x2="758.0" y1="347.84" y2="347.84" stroke="#1a1a1a" stroke-width="1.7"/>
<text transform="translate(714.70,358.65) scale(0.9985,1.0630)" font-family="Liberation Sans, Arial, sans-serif" font-size="26" font-weight="bold" fill="#3d3d3f">0.6</text>
<line x1="756.3" x2="758.0" y1="206.82" y2="206.82" stroke="#1a1a1a" stroke-width="1.7"/>
<text transform="translate(714.70,217.63) scale(0.9985,1.0630)" font-family="Liberation Sans, Arial, sans-serif" font-size="26" font-weight="bold" fill="#3d3d3f">0.8</text>
<line x1="756.3" x2="758.0" y1="65.80" y2="65.80" stroke="#1a1a1a" stroke-width="1.7"/>
<text transform="translate(714.70,76.61) scale(0.9985,1.0630)" font-family="Liberation Sans, Arial, sans-serif" font-size="26" font-weight="bold" fill="#3d3d3f">1.0</text>
<line x1="851.3" x2="851.3" y1="805.7" y2="812.0" stroke="#1a1a1a" stroke-width="1.7"/>
<text transform="translate(836.55,840.93) scale(0.9914,1.0630)" font-family="Liberation Sans, Arial, sans-serif" font-size="26" font-weight="bold" fill="#3d3d3f">74</text>
<line x1="995.4" x2="995.4" y1="805.7" y2="812.0" stroke="#1a1a1a" stroke-width="1.7"/>
<text transform="translate(973.47,840.93) scale(0.9914,1.0630)" font-family="Liberation Sans, Arial, sans-serif" font-size="26" font-weight="bold" fill="#3d3d3f">126</text>
<line x1="1139.7" x2="1139.7" y1="805.7" y2="812.0" stroke="#1a1a1a" stroke-width="1.7"/>
<text transform="translate(1117.77,840.93) scale(0.9914,1.0630)" font-family="Liberation Sans, Arial, sans-serif" font-size="26" font-weight="bold" fill="#3d3d3f">168</text>
<text transform="translate(323.64,891.34) scale(1.0246,1.0019)" font-family="Liberation Sans, Arial, sans-serif" font-size="30" fill="#000">Day</text>
<text transform="translate(963.84,891.34) scale(1.0246,1.0019)" font-family="Liberation Sans, Arial, sans-serif" font-size="30" fill="#000">Day</text>
<text transform="translate(28.74,715.72) rotate(-90) scale(1.0097,0.9536)" font-family="Liberation Sans, Arial, sans-serif" font-size="30" fill="#000">Proportion</text>
<text transform="translate(28.74,564.90) rotate(-90) scale(0.8800,0.9536)" font-family="Liberation Sans, Arial, sans-serif" font-size="30" fill="#000">of</text>
<text transform="translate(28.74,529.88) rotate(-90) scale(1.0392,0.9536)" font-family="Liberation Sans, Arial, sans-serif" font-size="30" fill="#000">mapped</text>
<text transform="translate(28.74,410.78) rotate(-90) scale(0.9917,0.9536)" font-family="Liberation Sans, Arial, sans-serif" font-size="30" fill="#000">reads</text>
<text transform="translate(28.74,327.31) rotate(-90) scale(0.9546,0.9536)" font-family="Liberation Sans, Arial, sans-serif" font-size="30" fill="#000">per</text>
<text transform="translate(28.74,275.64) rotate(-90) scale(1.0157,0.9536)" font-family="Liberation Sans, Arial, sans-serif" font-size="30" fill="#000">MAG</text>
<text transform="translate(28.74,198.48) rotate(-90) scale(0.9897,0.9536)" font-family="Liberation Sans, Arial, sans-serif" font-size="30" fill="#000">in</text>
<text transform="translate(28.74,167.47) rotate(-90) scale(1.1487,0.9536)" font-family="Liberation Sans, Arial, sans-serif" font-size="30" fill="#000">RA</text>
<text transform="translate(675.34,715.72) rotate(-90) scale(1.0097,0.9536)" font-family="Liberation Sans, Arial, sans-serif" font-size="30" fill="#000">Proportion</text>
<text transform="translate(675.34,564.90) rotate(-90) scale(0.8800,0.9536)" font-family="Liberation Sans, Arial, sans-serif" font-size="30" fill="#000">of</text>
<text transform="translate(675.34,529.88) rotate(-90) scale(1.0392,0.9536)" font-family="Liberation Sans, Arial, sans-serif" font-size="30" fill="#000">mapped</text>
<text transform="translate(675.34,410.78) rotate(-90) scale(0.9917,0.9536)" font-family="Liberation Sans, Arial, sans-serif" font-size="30" fill="#000">reads</text>
<text transform="translate(675.34,327.31) rotate(-90) scale(0.9546,0.9536)" font-family="Liberation Sans, Arial, sans-serif" font-size="30" fill="#000">per</text>
<text transform="translate(675.34,275.64) rotate(-90) scale(1.0157,0.9536)" font-family="Liberation Sans, Arial, sans-serif" font-size="30" fill="#000">MAG</text>
<text transform="translate(675.34,198.48) rotate(-90) scale(0.9897,0.9536)" font-family="Liberation Sans, Arial, sans-serif" font-size="30" fill="#000">in</text>
<text transform="translate(675.34,167.28) rotate(-90) scale(1.0717,0.9536)" font-family="Liberation Sans, Arial, sans-serif" font-size="30" fill="#000">RC</text>
<text transform="translate(1.29,39.40) scale(1.0104,1.0686)" font-family="Liberation Sans, Arial, sans-serif" font-size="50" font-weight="bold" fill="#000">A</text>
<text transform="translate(659.93,39.45) scale(0.8525,1.0628)" font-family="Liberation Sans, Arial, sans-serif" font-size="50" font-weight="bold" fill="#000">B</text>
<text transform="translate(1266.47,127.94) scale(0.9883,1.0263)" font-family="Liberation Sans, Arial, sans-serif" font-size="27" font-weight="bold" fill="#000">MAG Name</text>
<rect x="1267.75" y="145.95" width="40.0" height="38.0" fill="#EEB4EE" stroke="#000" stroke-width="1.9"/>
<text transform="translate(1321.49,175.75) scale(1.0041,0.9823)" font-family="Liberation Sans, Arial, sans-serif" font-size="27" fill="#000">Ca. Accumulibacter</text>
<rect x="1267.75" y="188.02" width="40.0" height="38.0" fill="#D2C27D" stroke="#000" stroke-width="1.9"/>
<text transform="translate(1321.49,217.82) scale(1.0041,0.9823)" font-family="Liberation Sans, Arial, sans-serif" font-size="27" fill="#000">Ca. Accumulibacter</text>
<text transform="translate(1562.05,217.82) scale(1.0013,0.9823)" font-family="Liberation Sans, Arial, sans-serif" font-size="27" fill="#000">delftensis</text>
<rect x="1267.75" y="230.09" width="40.0" height="38.0" fill="#FFF5EE" stroke="#000" stroke-width="1.9"/>
<text transform="translate(1321.49,259.89) scale(1.0041,0.9823)" font-family="Liberation Sans, Arial, sans-serif" font-size="27" fill="#000">Ca. Accumulibacter</text>
<rect x="1267.75" y="272.16" width="40.0" height="38.0" fill="#B9EEB9" stroke="#000" stroke-width="1.9"/>
<text transform="translate(1321.03,301.96) scale(0.9629,0.9823)" font-family="Liberation Sans, Arial, sans-serif" font-size="27" fill="#000">Propionivibrio</text>
<text transform="translate(1487.76,301.96) scale(0.9894,0.9823)" font-family="Liberation Sans, Arial, sans-serif" font-size="27" fill="#000">aalborgensis</text>
<rect x="1267.75" y="314.23" width="40.0" height="38.0" fill="#FA7254" stroke="#000" stroke-width="1.9"/>
<text transform="translate(1321.49,344.03) scale(1.0041,0.9823)" font-family="Liberation Sans, Arial, sans-serif" font-size="27" fill="#000">Ca. Accumulibacter</text>
<text transform="translate(1563.07,344.03) scale(0.9875,0.9823)" font-family="Liberation Sans, Arial, sans-serif" font-size="27" fill="#000">phosphatis</text>
<rect x="1267.75" y="356.30" width="40.0" height="38.0" fill="#45E0D0" stroke="#000" stroke-width="1.9"/>
<text transform="translate(1321.49,386.10) scale(1.0041,0.9823)" font-family="Liberation Sans, Arial, sans-serif" font-size="27" fill="#000">Ca. Accumulibacter</text>
<text transform="translate(1562.77,386.10) scale(0.9876,0.9823)" font-family="Liberation Sans, Arial, sans-serif" font-size="27" fill="#000">meliphilus</text>
<rect x="1267.75" y="398.37" width="40.0" height="38.0" fill="#808080" stroke="#000" stroke-width="1.9"/>
<text transform="translate(1321.49,428.17) scale(1.0041,0.9823)" font-family="Liberation Sans, Arial, sans-serif" font-size="27" fill="#000">Ca. Accumulibacter</text>
<text transform="translate(1562.66,428.17) scale(0.9943,0.9823)" font-family="Liberation Sans, Arial, sans-serif" font-size="27" fill="#000">contiguus</text>
<rect x="1267.75" y="440.44" width="40.0" height="38.0" fill="#17509F" stroke="#000" stroke-width="1.9"/>
<text transform="translate(1321.49,470.24) scale(1.0041,0.9823)" font-family="Liberation Sans, Arial, sans-serif" font-size="27" fill="#000">Ca. Accumulibacter</text>
<text transform="translate(1562.66,470.24) scale(0.9934,0.9823)" font-family="Liberation Sans, Arial, sans-serif" font-size="27" fill="#000">affinis</text>
<rect x="1267.75" y="482.51" width="40.0" height="38.0" fill="#E4F3E0" stroke="#000" stroke-width="1.9"/>
<text transform="translate(1321.49,512.31) scale(1.0041,0.9823)" font-family="Liberation Sans, Arial, sans-serif" font-size="27" fill="#000">Ca. Accumulibacter</text>
<text transform="translate(1562.78,512.31) scale(0.9802,0.9823)" font-family="Liberation Sans, Arial, sans-serif" font-size="27" fill="#000">propinquus</text>
<rect x="1267.75" y="524.58" width="40.0" height="38.0" fill="#FFDC3A" stroke="#000" stroke-width="1.9"/>
<text transform="translate(1321.49,554.38) scale(1.0041,0.9823)" font-family="Liberation Sans, Arial, sans-serif" font-size="27" fill="#000">Ca. Accumulibacter</text>
<rect x="1267.75" y="566.65" width="40.0" height="38.0" fill="#A6CEE3" stroke="#000" stroke-width="1.9"/>
<text transform="translate(1321.49,596.45) scale(1.0041,0.9823)" font-family="Liberation Sans, Arial, sans-serif" font-size="27" fill="#000">Ca. Accumulibacter</text>
<rect x="1267.75" y="608.72" width="40.0" height="38.0" fill="#333333" stroke="#000" stroke-width="1.9"/>
<text transform="translate(1321.49,638.52) scale(1.0041,0.9823)" font-family="Liberation Sans, Arial, sans-serif" font-size="27" fill="#000">Ca. Accumulibacter</text>
<rect x="1267.75" y="650.79" width="40.0" height="38.0" fill="#A51422" stroke="#000" stroke-width="1.9"/>
<text transform="translate(1321.49,680.59) scale(1.0041,0.9823)" font-family="Liberation Sans, Arial, sans-serif" font-size="27" fill="#000">Ca. Accumulibacter</text>
<text transform="translate(1562.83,680.59) scale(1.0096,0.9823)" font-family="Liberation Sans, Arial, sans-serif" font-size="27" fill="#000">necessarius</text>
<rect x="1267.75" y="692.86" width="40.0" height="38.0" fill="#BF63D8" stroke="#000" stroke-width="1.9"/>
<text transform="translate(1321.49,722.66) scale(1.0041,0.9823)" font-family="Liberation Sans, Arial, sans-serif" font-size="27" fill="#000">Ca. Accumulibacter</text>
<text transform="translate(1562.88,722.66) scale(0.9850,0.9823)" font-family="Liberation Sans, Arial, sans-serif" font-size="27" fill="#000">regalis</text>
</svg>
</body></html>
